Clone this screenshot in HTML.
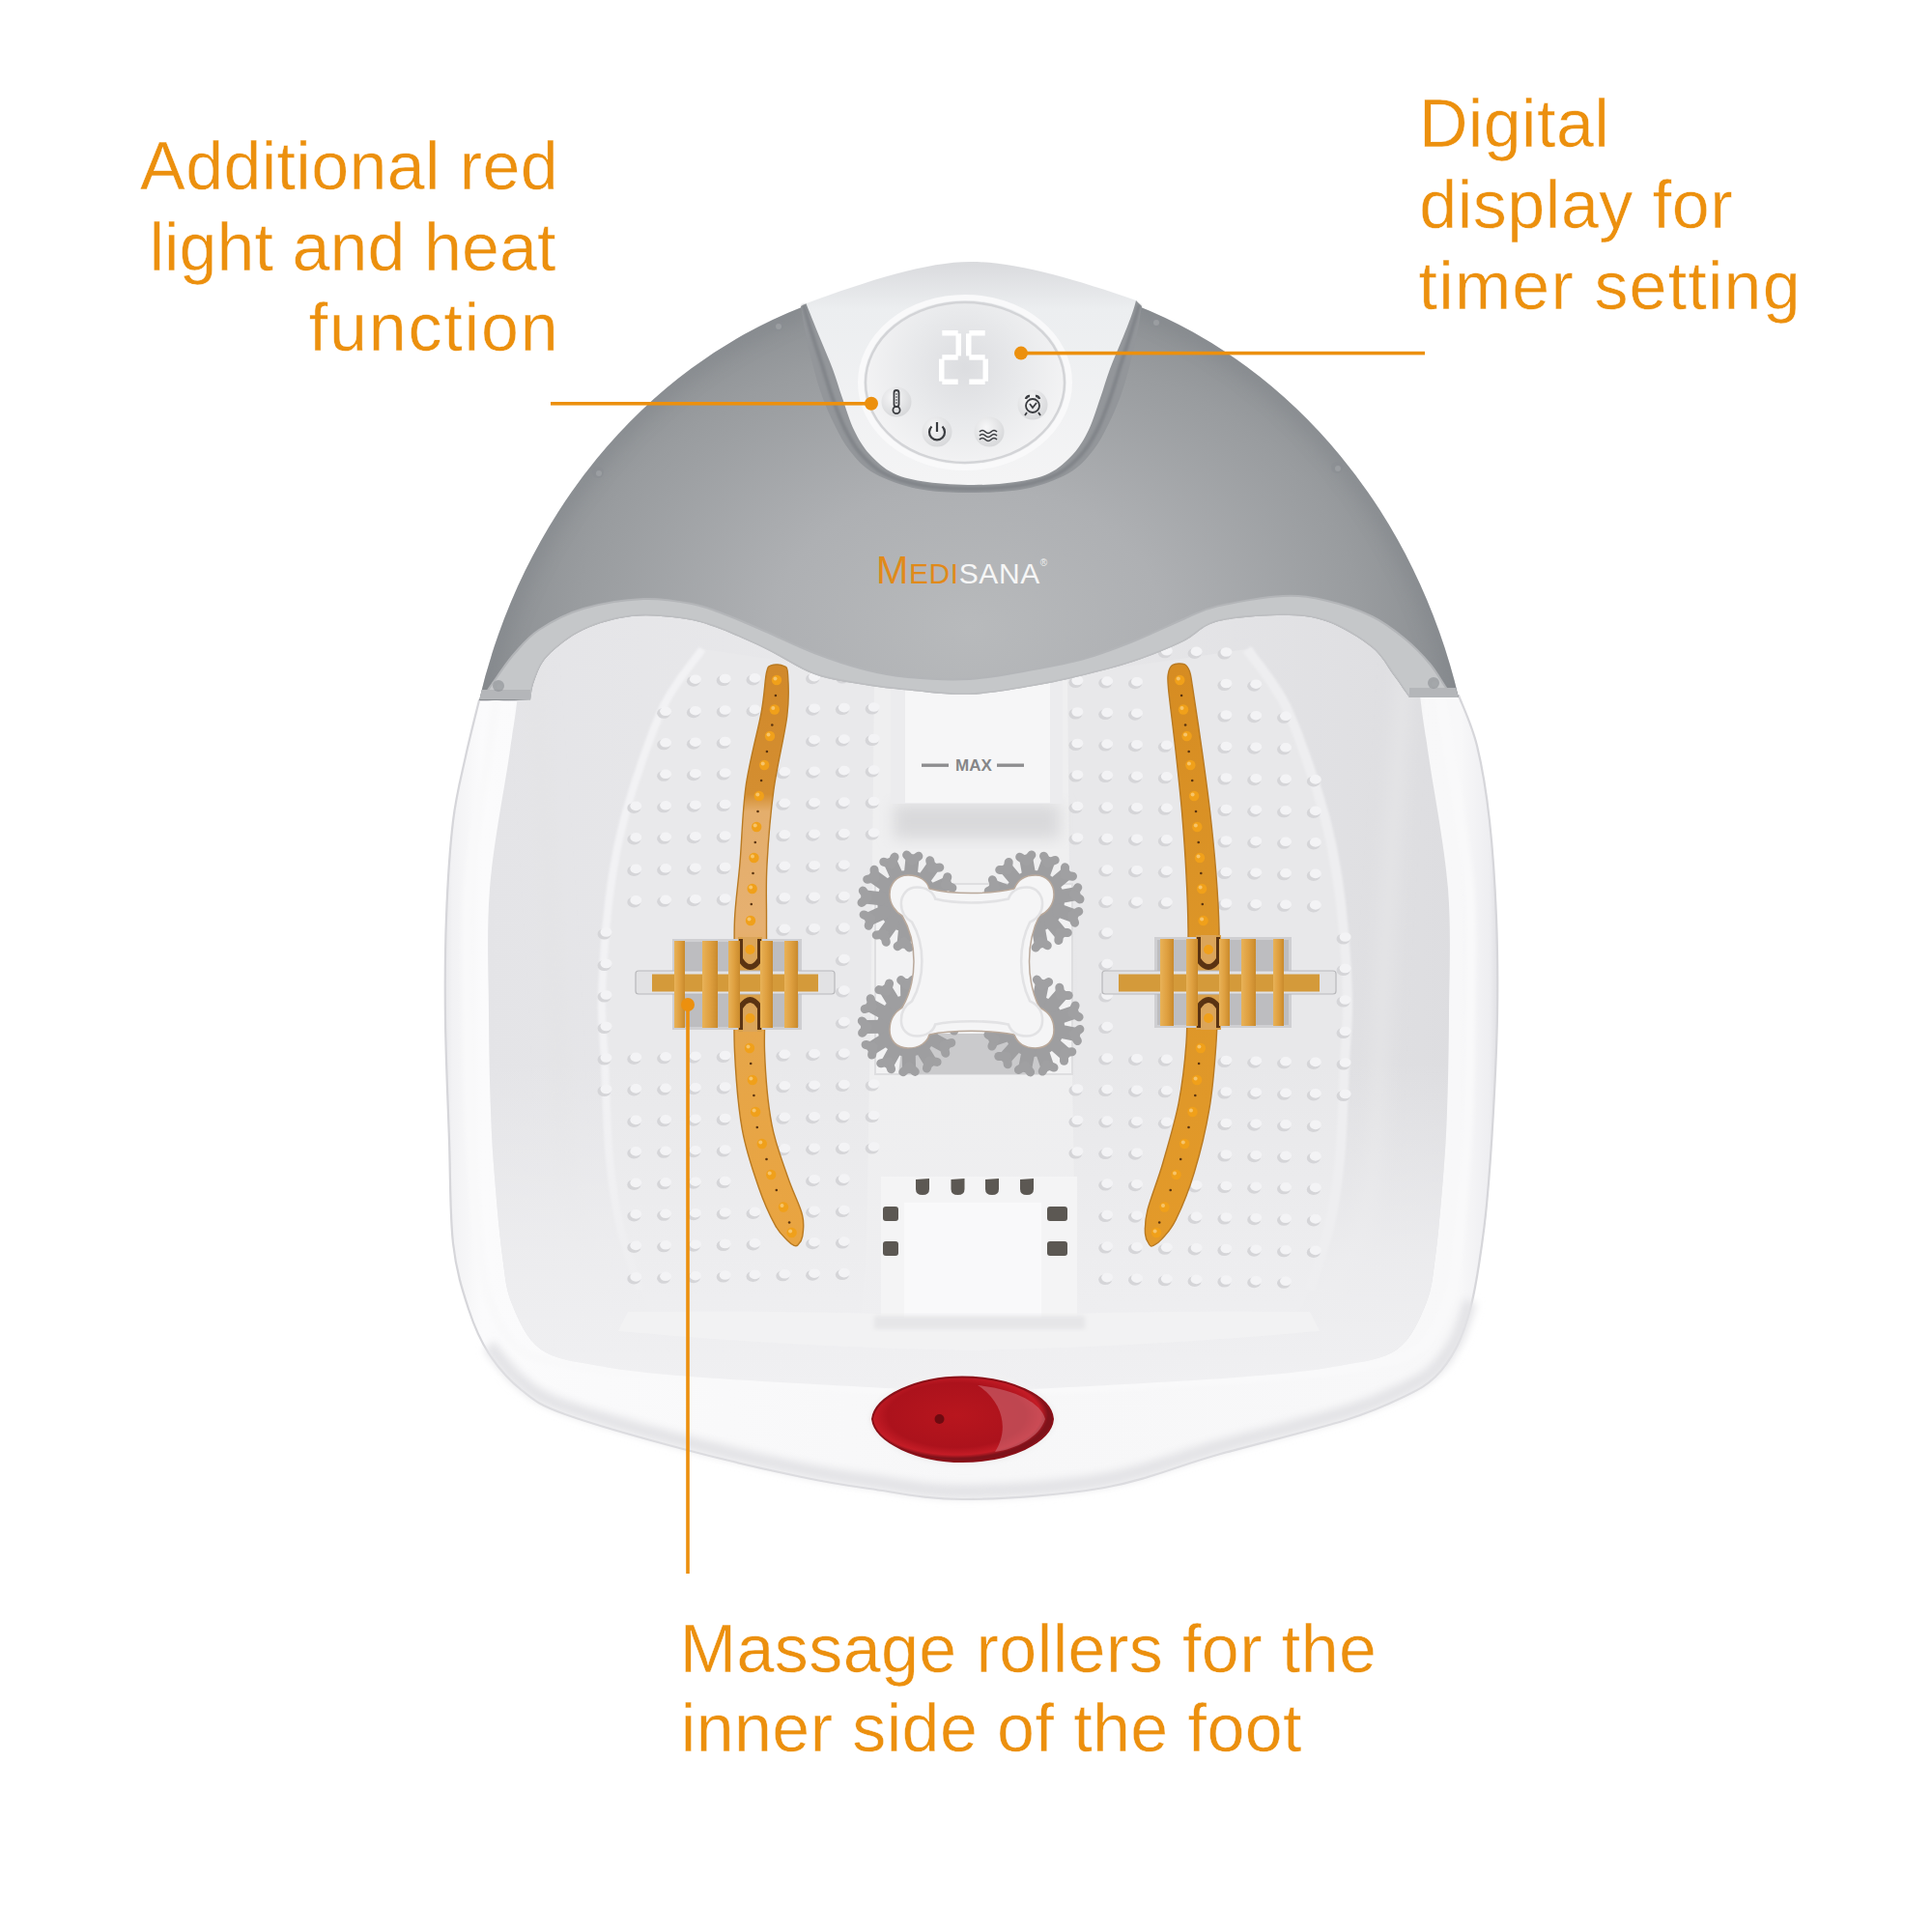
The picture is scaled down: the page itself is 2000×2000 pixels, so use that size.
<!DOCTYPE html>
<html><head><meta charset="utf-8">
<style>
html,body{margin:0;padding:0;background:#fff;width:2000px;height:2000px;overflow:hidden}
svg{display:block}
</style></head>
<body>
<svg width="2000" height="2000" viewBox="0 0 2000 2000" xmlns="http://www.w3.org/2000/svg">
<defs>
  <radialGradient id="domeG" cx="1003" cy="650" r="580" gradientUnits="userSpaceOnUse" gradientTransform="translate(1003 650) scale(1 0.72) translate(-1003 -650)">
    <stop offset="0" stop-color="#b8babc"/>
    <stop offset="0.35" stop-color="#aeb0b3"/>
    <stop offset="0.7" stop-color="#999c9f"/>
    <stop offset="1" stop-color="#7f8387"/>
  </radialGradient>
  <linearGradient id="bodyG" x1="455" y1="0" x2="1555" y2="0" gradientUnits="userSpaceOnUse">
    <stop offset="0" stop-color="#e2e2e5"/>
    <stop offset="0.012" stop-color="#f2f2f4"/>
    <stop offset="0.04" stop-color="#fbfbfc"/>
    <stop offset="0.5" stop-color="#f7f7f8"/>
    <stop offset="0.96" stop-color="#f8f8f9"/>
    <stop offset="0.988" stop-color="#eeeef1"/>
    <stop offset="1" stop-color="#d9d9de"/>
  </linearGradient>
  <linearGradient id="basinG" x1="0" y1="620" x2="0" y2="1440" gradientUnits="userSpaceOnUse">
    <stop offset="0" stop-color="#e0e0e2"/>
    <stop offset="0.5" stop-color="#e4e4e6"/>
    <stop offset="1" stop-color="#e8e8ea"/>
  </linearGradient>
  <linearGradient id="wallL" x1="530" y1="0" x2="640" y2="0" gradientUnits="userSpaceOnUse">
    <stop offset="0" stop-color="#e8e8ea"/>
    <stop offset="0.5" stop-color="#eeeeef"/>
    <stop offset="1" stop-color="#e9e9eb"/>
  </linearGradient>
  <linearGradient id="wallG" x1="500" y1="0" x2="1510" y2="0" gradientUnits="userSpaceOnUse">
    <stop offset="0" stop-color="#e4e4e7"/>
    <stop offset="0.5" stop-color="#eaeaec"/>
    <stop offset="1" stop-color="#dddde0"/>
  </linearGradient>
  <linearGradient id="frontG" x1="0" y1="1100" x2="0" y2="1440" gradientUnits="userSpaceOnUse">
    <stop offset="0" stop-color="#eeeef0" stop-opacity="0"/>
    <stop offset="0.6" stop-color="#eeeef0" stop-opacity="0.85"/>
    <stop offset="1" stop-color="#f0f0f2" stop-opacity="1"/>
  </linearGradient>
  <linearGradient id="modG" x1="0" y1="270" x2="0" y2="500" gradientUnits="userSpaceOnUse">
    <stop offset="0" stop-color="#d9dadd"/>
    <stop offset="0.22" stop-color="#eceef0"/>
    <stop offset="1" stop-color="#f4f4f5"/>
  </linearGradient>
  <radialGradient id="dispG" cx="999" cy="380" r="110" gradientUnits="userSpaceOnUse">
    <stop offset="0" stop-color="#dcdde0"/>
    <stop offset="0.55" stop-color="#e9eaec"/>
    <stop offset="1" stop-color="#f4f4f5"/>
  </radialGradient>
  <linearGradient id="stripeL" x1="0" y1="690" x2="0" y2="1290" gradientUnits="userSpaceOnUse">
    <stop offset="0" stop-color="#d1892b"/>
    <stop offset="0.22" stop-color="#d48e30"/>
    <stop offset="0.25" stop-color="#e4ae6c"/>
    <stop offset="0.45" stop-color="#e6b070"/>
    <stop offset="0.62" stop-color="#e6a64a"/>
    <stop offset="1" stop-color="#e9a440"/>
  </linearGradient>
  <linearGradient id="stripeR" x1="0" y1="690" x2="0" y2="1290" gradientUnits="userSpaceOnUse">
    <stop offset="0" stop-color="#d68c22"/>
    <stop offset="0.5" stop-color="#dd9628"/>
    <stop offset="1" stop-color="#e39a2a"/>
  </linearGradient>
  <radialGradient id="btnG" cx="0.4" cy="0.35" r="0.65">
    <stop offset="0" stop-color="#f7f7f8"/>
    <stop offset="1" stop-color="#d8d9db"/>
  </radialGradient>
  <radialGradient id="redG" cx="990" cy="1465" r="95" gradientUnits="userSpaceOnUse" gradientTransform="translate(990 1465) scale(1 0.47) translate(-990 -1465)">
    <stop offset="0" stop-color="#b8161e"/>
    <stop offset="0.75" stop-color="#ac121c"/>
    <stop offset="0.92" stop-color="#c41c26"/>
    <stop offset="1" stop-color="#7e121a"/>
  </radialGradient>
  <linearGradient id="finG" x1="0" y1="0" x2="1" y2="0">
    <stop offset="0" stop-color="#e8b258"/>
    <stop offset="0.5" stop-color="#dfa040"/>
    <stop offset="1" stop-color="#c98a2c"/>
  </linearGradient>
  <filter id="blur1" x="-20%" y="-20%" width="140%" height="140%"><feGaussianBlur stdDeviation="1"/></filter>
  <filter id="blur2" x="-20%" y="-20%" width="140%" height="140%"><feGaussianBlur stdDeviation="2"/></filter>
  <filter id="blur4" x="-20%" y="-20%" width="140%" height="140%"><feGaussianBlur stdDeviation="4"/></filter>
  <filter id="blur8" x="-30%" y="-30%" width="160%" height="160%"><feGaussianBlur stdDeviation="8"/></filter>
</defs>
<rect width="2000" height="2000" fill="#fff"/>
<path d="M496.0 725.0 C493.7 734.7 486.5 762.2 482.0 783.0 C477.5 803.8 472.3 822.2 469.0 850.0 C465.7 877.8 463.3 915.5 462.0 950.0 C460.7 984.5 460.5 1018.7 461.0 1057.0 C461.5 1095.3 463.7 1141.7 465.0 1180.0 C466.3 1218.3 465.7 1257.8 469.0 1287.0 C472.3 1316.2 478.8 1336.0 485.0 1355.0 C491.2 1374.0 496.8 1387.0 506.0 1401.0 C515.2 1415.0 526.8 1428.5 540.0 1439.0 C553.2 1449.5 556.5 1453.7 585.0 1464.0 C613.5 1474.3 670.2 1490.2 711.0 1501.0 C751.8 1511.8 798.5 1522.3 830.0 1529.0 C861.5 1535.7 872.0 1537.2 900.0 1541.0 C928.0 1544.8 957.5 1552.2 998.0 1552.0 C1038.5 1551.8 1099.3 1547.7 1143.0 1540.0 C1186.7 1532.3 1218.3 1517.7 1260.0 1506.0 C1301.7 1494.3 1360.5 1480.2 1393.0 1470.0 C1425.5 1459.8 1439.5 1452.5 1455.0 1445.0 C1470.5 1437.5 1477.2 1433.5 1486.0 1425.0 C1494.8 1416.5 1502.0 1405.7 1508.0 1394.0 C1514.0 1382.3 1518.2 1369.2 1522.0 1355.0 C1525.8 1340.8 1528.2 1327.0 1531.0 1309.0 C1533.8 1291.0 1536.5 1273.5 1539.0 1247.0 C1541.5 1220.5 1544.2 1182.8 1546.0 1150.0 C1547.8 1117.2 1549.5 1083.3 1550.0 1050.0 C1550.5 1016.7 1550.3 983.3 1549.0 950.0 C1547.7 916.7 1545.3 879.7 1542.0 850.0 C1538.7 820.3 1534.3 793.7 1529.0 772.0 C1523.7 750.3 1513.2 728.7 1510.0 720.0  Z" fill="url(#bodyG)"/>
<path d="M496.0 725.0 C493.7 734.7 486.5 762.2 482.0 783.0 C477.5 803.8 472.3 822.2 469.0 850.0 C465.7 877.8 463.3 915.5 462.0 950.0 C460.7 984.5 460.5 1018.7 461.0 1057.0 C461.5 1095.3 463.7 1141.7 465.0 1180.0 C466.3 1218.3 465.7 1257.8 469.0 1287.0 C472.3 1316.2 478.8 1336.0 485.0 1355.0 C491.2 1374.0 496.8 1387.0 506.0 1401.0 C515.2 1415.0 526.8 1428.5 540.0 1439.0 C553.2 1449.5 556.5 1453.7 585.0 1464.0 C613.5 1474.3 670.2 1490.2 711.0 1501.0 C751.8 1511.8 798.5 1522.3 830.0 1529.0 C861.5 1535.7 872.0 1537.2 900.0 1541.0 C928.0 1544.8 957.5 1552.2 998.0 1552.0 C1038.5 1551.8 1099.3 1547.7 1143.0 1540.0 C1186.7 1532.3 1218.3 1517.7 1260.0 1506.0 C1301.7 1494.3 1360.5 1480.2 1393.0 1470.0 C1425.5 1459.8 1439.5 1452.5 1455.0 1445.0 C1470.5 1437.5 1477.2 1433.5 1486.0 1425.0 C1494.8 1416.5 1502.0 1405.7 1508.0 1394.0 C1514.0 1382.3 1518.2 1369.2 1522.0 1355.0 C1525.8 1340.8 1528.2 1327.0 1531.0 1309.0 C1533.8 1291.0 1536.5 1273.5 1539.0 1247.0 C1541.5 1220.5 1544.2 1182.8 1546.0 1150.0 C1547.8 1117.2 1549.5 1083.3 1550.0 1050.0 C1550.5 1016.7 1550.3 983.3 1549.0 950.0 C1547.7 916.7 1545.3 879.7 1542.0 850.0 C1538.7 820.3 1534.3 793.7 1529.0 772.0 C1523.7 750.3 1513.2 728.7 1510.0 720.0  Z" fill="none" stroke="#d6d6da" stroke-width="2.2"/>
<path d="M506.0 1401.0 C511.7 1407.3 526.8 1428.5 540.0 1439.0 C553.2 1449.5 556.5 1453.7 585.0 1464.0 C613.5 1474.3 670.2 1490.2 711.0 1501.0 C751.8 1511.8 798.5 1522.3 830.0 1529.0 C861.5 1535.7 872.0 1537.2 900.0 1541.0 C928.0 1544.8 957.5 1552.2 998.0 1552.0 C1038.5 1551.8 1099.3 1547.7 1143.0 1540.0 C1186.7 1532.3 1218.3 1517.7 1260.0 1506.0 C1301.7 1494.3 1360.5 1480.2 1393.0 1470.0 C1425.5 1459.8 1439.5 1452.5 1455.0 1445.0 C1470.5 1437.5 1477.2 1433.5 1486.0 1425.0 C1494.8 1416.5 1502.0 1405.7 1508.0 1394.0 C1514.0 1382.3 1519.7 1361.5 1522.0 1355.0 " fill="none" stroke="#e3e3e6" stroke-width="14" filter="url(#blur4)" transform="translate(0 -8)"/>
<path d="M549.0 600.0 C546.8 620.0 539.7 689.5 536.0 720.0 C532.3 750.5 531.8 749.7 527.0 783.0 C522.2 816.3 510.5 875.5 507.0 920.0 C503.5 964.5 505.8 1011.7 506.0 1050.0 C506.2 1088.3 507.0 1122.0 508.0 1150.0 C509.0 1178.0 510.0 1193.0 512.0 1218.0 C514.0 1243.0 517.0 1278.0 520.0 1300.0 C523.0 1322.0 523.3 1333.8 530.0 1350.0 C536.7 1366.2 545.0 1386.3 560.0 1397.0 C575.0 1407.7 594.2 1409.3 620.0 1414.0 C645.8 1418.7 668.3 1421.3 715.0 1425.0 C761.7 1428.7 852.0 1433.5 900.0 1436.0 C948.0 1438.5 968.7 1440.0 1003.0 1440.0 C1037.3 1440.0 1058.0 1438.5 1106.0 1436.0 C1154.0 1433.5 1244.3 1428.7 1291.0 1425.0 C1337.7 1421.3 1360.2 1418.7 1386.0 1414.0 C1411.8 1409.3 1431.0 1407.7 1446.0 1397.0 C1461.0 1386.3 1469.3 1366.2 1476.0 1350.0 C1482.7 1333.8 1483.0 1322.0 1486.0 1300.0 C1489.0 1278.0 1492.0 1243.0 1494.0 1218.0 C1496.0 1193.0 1497.0 1178.0 1498.0 1150.0 C1499.0 1122.0 1499.8 1088.3 1500.0 1050.0 C1500.2 1011.7 1502.5 964.5 1499.0 920.0 C1495.5 875.5 1483.8 816.3 1479.0 783.0 C1474.2 749.7 1473.7 750.5 1470.0 720.0 C1466.3 689.5 1459.2 620.0 1457.0 600.0  Z" fill="url(#wallG)"/>
<path d="M536.0 720.0 C534.5 730.5 531.8 749.7 527.0 783.0 C522.2 816.3 510.5 875.5 507.0 920.0 C503.5 964.5 505.8 1011.7 506.0 1050.0 C506.2 1088.3 507.0 1122.0 508.0 1150.0 C509.0 1178.0 510.0 1193.0 512.0 1218.0 C514.0 1243.0 517.0 1278.0 520.0 1300.0 C523.0 1322.0 523.3 1333.8 530.0 1350.0 C536.7 1366.2 545.0 1386.3 560.0 1397.0 C575.0 1407.7 594.2 1409.3 620.0 1414.0 C645.8 1418.7 668.3 1421.3 715.0 1425.0 C761.7 1428.7 852.0 1433.5 900.0 1436.0 C948.0 1438.5 985.8 1439.3 1003.0 1440.0 " fill="none" stroke="#f9f9fa" stroke-width="10" filter="url(#blur2)" transform="translate(-22 0)"/>
<path d="M1003.0 1440.0 C1020.2 1439.3 1058.0 1438.5 1106.0 1436.0 C1154.0 1433.5 1244.3 1428.7 1291.0 1425.0 C1337.7 1421.3 1360.2 1418.7 1386.0 1414.0 C1411.8 1409.3 1431.0 1407.7 1446.0 1397.0 C1461.0 1386.3 1469.3 1366.2 1476.0 1350.0 C1482.7 1333.8 1483.0 1322.0 1486.0 1300.0 C1489.0 1278.0 1492.0 1243.0 1494.0 1218.0 C1496.0 1193.0 1497.0 1178.0 1498.0 1150.0 C1499.0 1122.0 1499.8 1088.3 1500.0 1050.0 C1500.2 1011.7 1502.5 964.5 1499.0 920.0 C1495.5 875.5 1483.8 816.3 1479.0 783.0 C1474.2 749.7 1471.5 730.5 1470.0 720.0 " fill="none" stroke="#f9f9fa" stroke-width="10" filter="url(#blur2)" transform="translate(22 0)"/>
<path d="M548 640 C560 800 575 1000 580 1150 C585 1250 600 1320 650 1345" fill="none" stroke="#e4e4e6" stroke-width="18" filter="url(#blur8)"/>
<path d="M1458 640 C1446 800 1431 1000 1426 1150 C1421 1250 1406 1320 1356 1345" fill="none" stroke="#e4e4e6" stroke-width="18" filter="url(#blur8)"/>
<path d="M727.0 672.0 C720.8 680.8 700.5 705.3 690.0 725.0 C679.5 744.7 671.8 767.5 664.0 790.0 C656.2 812.5 648.7 835.8 643.0 860.0 C637.3 884.2 633.3 906.2 630.0 935.0 C626.7 963.8 623.7 1005.5 623.0 1033.0 C622.3 1060.5 624.7 1072.2 626.0 1100.0 C627.3 1127.8 628.3 1171.7 631.0 1200.0 C633.7 1228.3 636.8 1247.5 642.0 1270.0 C647.2 1292.5 652.3 1319.7 662.0 1335.0 C671.7 1350.3 663.7 1359.5 700.0 1362.0 C736.3 1364.5 845.8 1370.3 880.0 1350.0 C914.2 1329.7 901.2 1298.3 905.0 1240.0 C908.8 1181.7 902.2 1060.0 903.0 1000.0 C903.8 940.0 907.2 930.0 910.0 880.0 C912.8 830.0 918.3 730.0 920.0 700.0  Z" fill="#e9e9eb"/>
<path d="M1291.0 672.0 C1297.2 680.8 1317.5 705.3 1328.0 725.0 C1338.5 744.7 1346.2 767.5 1354.0 790.0 C1361.8 812.5 1369.3 835.8 1375.0 860.0 C1380.7 884.2 1384.7 906.2 1388.0 935.0 C1391.3 963.8 1394.3 1005.5 1395.0 1033.0 C1395.7 1060.5 1393.3 1072.2 1392.0 1100.0 C1390.7 1127.8 1389.7 1171.7 1387.0 1200.0 C1384.3 1228.3 1381.2 1247.5 1376.0 1270.0 C1370.8 1292.5 1365.7 1319.7 1356.0 1335.0 C1346.3 1350.3 1354.3 1359.5 1318.0 1362.0 C1281.7 1364.5 1172.2 1370.3 1138.0 1350.0 C1103.8 1329.7 1116.8 1298.3 1113.0 1240.0 C1109.2 1181.7 1115.8 1060.0 1115.0 1000.0 C1114.2 940.0 1110.8 930.0 1108.0 880.0 C1105.2 830.0 1099.7 730.0 1098.0 700.0  Z" fill="#e8e8ea"/>
<path d="M727.0 672.0 C720.8 680.8 700.5 705.3 690.0 725.0 C679.5 744.7 671.8 767.5 664.0 790.0 C656.2 812.5 648.7 835.8 643.0 860.0 C637.3 884.2 633.3 906.2 630.0 935.0 C626.7 963.8 623.7 1005.5 623.0 1033.0 C622.3 1060.5 624.7 1072.2 626.0 1100.0 C627.3 1127.8 628.3 1171.7 631.0 1200.0 C633.7 1228.3 636.8 1247.5 642.0 1270.0 C647.2 1292.5 658.7 1324.2 662.0 1335.0 " fill="none" stroke="#f2f2f4" stroke-width="8" filter="url(#blur1)"/>
<path d="M1291.0 672.0 C1297.2 680.8 1317.5 705.3 1328.0 725.0 C1338.5 744.7 1346.2 767.5 1354.0 790.0 C1361.8 812.5 1369.3 835.8 1375.0 860.0 C1380.7 884.2 1384.7 906.2 1388.0 935.0 C1391.3 963.8 1394.3 1005.5 1395.0 1033.0 C1395.7 1060.5 1393.3 1072.2 1392.0 1100.0 C1390.7 1127.8 1389.7 1171.7 1387.0 1200.0 C1384.3 1228.3 1381.2 1247.5 1376.0 1270.0 C1370.8 1292.5 1359.3 1324.2 1356.0 1335.0 " fill="none" stroke="#eeeef0" stroke-width="10" filter="url(#blur1)"/>
<path d="M905 700 L1105 700 L1108 1000 L1112 1230 C1113 1300 1115 1340 1120 1368 L890 1368 C895 1340 897 1300 898 1230 L902 1000 Z" fill="#efeff0"/>
<clipPath id="wallClip"><path d="M549.0 600.0 C546.8 620.0 539.7 689.5 536.0 720.0 C532.3 750.5 531.8 749.7 527.0 783.0 C522.2 816.3 510.5 875.5 507.0 920.0 C503.5 964.5 505.8 1011.7 506.0 1050.0 C506.2 1088.3 507.0 1122.0 508.0 1150.0 C509.0 1178.0 510.0 1193.0 512.0 1218.0 C514.0 1243.0 517.0 1278.0 520.0 1300.0 C523.0 1322.0 523.3 1333.8 530.0 1350.0 C536.7 1366.2 545.0 1386.3 560.0 1397.0 C575.0 1407.7 594.2 1409.3 620.0 1414.0 C645.8 1418.7 668.3 1421.3 715.0 1425.0 C761.7 1428.7 852.0 1433.5 900.0 1436.0 C948.0 1438.5 968.7 1440.0 1003.0 1440.0 C1037.3 1440.0 1058.0 1438.5 1106.0 1436.0 C1154.0 1433.5 1244.3 1428.7 1291.0 1425.0 C1337.7 1421.3 1360.2 1418.7 1386.0 1414.0 C1411.8 1409.3 1431.0 1407.7 1446.0 1397.0 C1461.0 1386.3 1469.3 1366.2 1476.0 1350.0 C1482.7 1333.8 1483.0 1322.0 1486.0 1300.0 C1489.0 1278.0 1492.0 1243.0 1494.0 1218.0 C1496.0 1193.0 1497.0 1178.0 1498.0 1150.0 C1499.0 1122.0 1499.8 1088.3 1500.0 1050.0 C1500.2 1011.7 1502.5 964.5 1499.0 920.0 C1495.5 875.5 1483.8 816.3 1479.0 783.0 C1474.2 749.7 1473.7 750.5 1470.0 720.0 C1466.3 689.5 1459.2 620.0 1457.0 600.0  Z"/></clipPath>
<rect x="480" y="1100" width="1060" height="360" fill="url(#frontG)" clip-path="url(#wallClip)"/>
<path d="M650 1358 C800 1356 900 1360 1003 1362 C1106 1360 1206 1356 1356 1358 L1366 1378 C1206 1392 1106 1396 1003 1398 C900 1396 800 1392 640 1378 Z" fill="#f2f2f4" opacity="0.8"/>
<g fill="#d5d5d8"><ellipse cx="1267.4" cy="677.0" rx="7" ry="5.5"/><ellipse cx="1236.6" cy="676.4" rx="7" ry="5.5"/><ellipse cx="1205.8" cy="675.8" rx="7" ry="5.5"/><ellipse cx="1175.0" cy="675.2" rx="7" ry="5.5"/><ellipse cx="1144.2" cy="674.6" rx="7" ry="5.5"/><ellipse cx="1113.4" cy="674.0" rx="7" ry="5.5"/><ellipse cx="717.9" cy="705.2" rx="7" ry="5.5"/><ellipse cx="1298.2" cy="710.2" rx="7" ry="5.5"/><ellipse cx="748.7" cy="704.5" rx="7" ry="5.5"/><ellipse cx="1267.4" cy="709.5" rx="7" ry="5.5"/><ellipse cx="779.5" cy="703.9" rx="7" ry="5.5"/><ellipse cx="841.1" cy="702.7" rx="7" ry="5.5"/><ellipse cx="1175.0" cy="707.7" rx="7" ry="5.5"/><ellipse cx="871.9" cy="702.1" rx="7" ry="5.5"/><ellipse cx="1144.2" cy="707.1" rx="7" ry="5.5"/><ellipse cx="902.7" cy="701.5" rx="7" ry="5.5"/><ellipse cx="1113.4" cy="706.5" rx="7" ry="5.5"/><ellipse cx="687.1" cy="738.3" rx="7" ry="5.5"/><ellipse cx="1329.0" cy="743.3" rx="7" ry="5.5"/><ellipse cx="717.9" cy="737.7" rx="7" ry="5.5"/><ellipse cx="1298.2" cy="742.7" rx="7" ry="5.5"/><ellipse cx="748.7" cy="737.0" rx="7" ry="5.5"/><ellipse cx="1267.4" cy="742.0" rx="7" ry="5.5"/><ellipse cx="779.5" cy="736.4" rx="7" ry="5.5"/><ellipse cx="841.1" cy="735.2" rx="7" ry="5.5"/><ellipse cx="1175.0" cy="740.2" rx="7" ry="5.5"/><ellipse cx="871.9" cy="734.6" rx="7" ry="5.5"/><ellipse cx="1144.2" cy="739.6" rx="7" ry="5.5"/><ellipse cx="902.7" cy="734.0" rx="7" ry="5.5"/><ellipse cx="1113.4" cy="739.0" rx="7" ry="5.5"/><ellipse cx="687.1" cy="770.8" rx="7" ry="5.5"/><ellipse cx="1329.0" cy="775.8" rx="7" ry="5.5"/><ellipse cx="717.9" cy="770.2" rx="7" ry="5.5"/><ellipse cx="1298.2" cy="775.2" rx="7" ry="5.5"/><ellipse cx="748.7" cy="769.5" rx="7" ry="5.5"/><ellipse cx="1267.4" cy="774.5" rx="7" ry="5.5"/><ellipse cx="1205.8" cy="773.3" rx="7" ry="5.5"/><ellipse cx="841.1" cy="767.7" rx="7" ry="5.5"/><ellipse cx="1175.0" cy="772.7" rx="7" ry="5.5"/><ellipse cx="871.9" cy="767.1" rx="7" ry="5.5"/><ellipse cx="1144.2" cy="772.1" rx="7" ry="5.5"/><ellipse cx="902.7" cy="766.5" rx="7" ry="5.5"/><ellipse cx="1113.4" cy="771.5" rx="7" ry="5.5"/><ellipse cx="1359.8" cy="808.9" rx="7" ry="5.5"/><ellipse cx="687.1" cy="803.3" rx="7" ry="5.5"/><ellipse cx="1329.0" cy="808.3" rx="7" ry="5.5"/><ellipse cx="717.9" cy="802.7" rx="7" ry="5.5"/><ellipse cx="1298.2" cy="807.7" rx="7" ry="5.5"/><ellipse cx="748.7" cy="802.0" rx="7" ry="5.5"/><ellipse cx="1267.4" cy="807.0" rx="7" ry="5.5"/><ellipse cx="810.3" cy="800.8" rx="7" ry="5.5"/><ellipse cx="1205.8" cy="805.8" rx="7" ry="5.5"/><ellipse cx="841.1" cy="800.2" rx="7" ry="5.5"/><ellipse cx="1175.0" cy="805.2" rx="7" ry="5.5"/><ellipse cx="871.9" cy="799.6" rx="7" ry="5.5"/><ellipse cx="1144.2" cy="804.6" rx="7" ry="5.5"/><ellipse cx="902.7" cy="799.0" rx="7" ry="5.5"/><ellipse cx="1113.4" cy="804.0" rx="7" ry="5.5"/><ellipse cx="656.3" cy="836.4" rx="7" ry="5.5"/><ellipse cx="1359.8" cy="841.4" rx="7" ry="5.5"/><ellipse cx="687.1" cy="835.8" rx="7" ry="5.5"/><ellipse cx="1329.0" cy="840.8" rx="7" ry="5.5"/><ellipse cx="717.9" cy="835.2" rx="7" ry="5.5"/><ellipse cx="1298.2" cy="840.2" rx="7" ry="5.5"/><ellipse cx="748.7" cy="834.5" rx="7" ry="5.5"/><ellipse cx="1267.4" cy="839.5" rx="7" ry="5.5"/><ellipse cx="810.3" cy="833.3" rx="7" ry="5.5"/><ellipse cx="1205.8" cy="838.3" rx="7" ry="5.5"/><ellipse cx="841.1" cy="832.7" rx="7" ry="5.5"/><ellipse cx="1175.0" cy="837.7" rx="7" ry="5.5"/><ellipse cx="871.9" cy="832.1" rx="7" ry="5.5"/><ellipse cx="1144.2" cy="837.1" rx="7" ry="5.5"/><ellipse cx="902.7" cy="831.5" rx="7" ry="5.5"/><ellipse cx="1113.4" cy="836.5" rx="7" ry="5.5"/><ellipse cx="656.3" cy="868.9" rx="7" ry="5.5"/><ellipse cx="1359.8" cy="873.9" rx="7" ry="5.5"/><ellipse cx="687.1" cy="868.3" rx="7" ry="5.5"/><ellipse cx="1329.0" cy="873.3" rx="7" ry="5.5"/><ellipse cx="717.9" cy="867.7" rx="7" ry="5.5"/><ellipse cx="1298.2" cy="872.7" rx="7" ry="5.5"/><ellipse cx="748.7" cy="867.0" rx="7" ry="5.5"/><ellipse cx="1267.4" cy="872.0" rx="7" ry="5.5"/><ellipse cx="810.3" cy="865.8" rx="7" ry="5.5"/><ellipse cx="1205.8" cy="870.8" rx="7" ry="5.5"/><ellipse cx="841.1" cy="865.2" rx="7" ry="5.5"/><ellipse cx="1175.0" cy="870.2" rx="7" ry="5.5"/><ellipse cx="871.9" cy="864.6" rx="7" ry="5.5"/><ellipse cx="1144.2" cy="869.6" rx="7" ry="5.5"/><ellipse cx="902.7" cy="864.0" rx="7" ry="5.5"/><ellipse cx="1113.4" cy="869.0" rx="7" ry="5.5"/><ellipse cx="656.3" cy="901.4" rx="7" ry="5.5"/><ellipse cx="1359.8" cy="906.4" rx="7" ry="5.5"/><ellipse cx="687.1" cy="900.8" rx="7" ry="5.5"/><ellipse cx="1329.0" cy="905.8" rx="7" ry="5.5"/><ellipse cx="717.9" cy="900.2" rx="7" ry="5.5"/><ellipse cx="1298.2" cy="905.2" rx="7" ry="5.5"/><ellipse cx="748.7" cy="899.5" rx="7" ry="5.5"/><ellipse cx="1267.4" cy="904.5" rx="7" ry="5.5"/><ellipse cx="810.3" cy="898.3" rx="7" ry="5.5"/><ellipse cx="1205.8" cy="903.3" rx="7" ry="5.5"/><ellipse cx="841.1" cy="897.7" rx="7" ry="5.5"/><ellipse cx="1175.0" cy="902.7" rx="7" ry="5.5"/><ellipse cx="871.9" cy="897.1" rx="7" ry="5.5"/><ellipse cx="1144.2" cy="902.1" rx="7" ry="5.5"/><ellipse cx="656.3" cy="933.9" rx="7" ry="5.5"/><ellipse cx="1359.8" cy="938.9" rx="7" ry="5.5"/><ellipse cx="687.1" cy="933.3" rx="7" ry="5.5"/><ellipse cx="1329.0" cy="938.3" rx="7" ry="5.5"/><ellipse cx="717.9" cy="932.7" rx="7" ry="5.5"/><ellipse cx="1298.2" cy="937.7" rx="7" ry="5.5"/><ellipse cx="748.7" cy="932.0" rx="7" ry="5.5"/><ellipse cx="1267.4" cy="937.0" rx="7" ry="5.5"/><ellipse cx="810.3" cy="930.8" rx="7" ry="5.5"/><ellipse cx="1205.8" cy="935.8" rx="7" ry="5.5"/><ellipse cx="841.1" cy="930.2" rx="7" ry="5.5"/><ellipse cx="1175.0" cy="935.2" rx="7" ry="5.5"/><ellipse cx="871.9" cy="929.6" rx="7" ry="5.5"/><ellipse cx="1144.2" cy="934.6" rx="7" ry="5.5"/><ellipse cx="625.5" cy="967.0" rx="7" ry="5.5"/><ellipse cx="1390.6" cy="972.0" rx="7" ry="5.5"/><ellipse cx="810.3" cy="963.3" rx="7" ry="5.5"/><ellipse cx="841.1" cy="962.7" rx="7" ry="5.5"/><ellipse cx="871.9" cy="962.1" rx="7" ry="5.5"/><ellipse cx="1144.2" cy="967.1" rx="7" ry="5.5"/><ellipse cx="625.5" cy="999.5" rx="7" ry="5.5"/><ellipse cx="1390.6" cy="1004.5" rx="7" ry="5.5"/><ellipse cx="871.9" cy="994.6" rx="7" ry="5.5"/><ellipse cx="1144.2" cy="999.6" rx="7" ry="5.5"/><ellipse cx="625.5" cy="1032.0" rx="7" ry="5.5"/><ellipse cx="1390.6" cy="1037.0" rx="7" ry="5.5"/><ellipse cx="871.9" cy="1027.1" rx="7" ry="5.5"/><ellipse cx="1144.2" cy="1032.1" rx="7" ry="5.5"/><ellipse cx="625.5" cy="1064.5" rx="7" ry="5.5"/><ellipse cx="1390.6" cy="1069.5" rx="7" ry="5.5"/><ellipse cx="871.9" cy="1059.6" rx="7" ry="5.5"/><ellipse cx="1144.2" cy="1064.6" rx="7" ry="5.5"/><ellipse cx="625.5" cy="1097.0" rx="7" ry="5.5"/><ellipse cx="1390.6" cy="1102.0" rx="7" ry="5.5"/><ellipse cx="656.3" cy="1096.4" rx="7" ry="5.5"/><ellipse cx="1359.8" cy="1101.4" rx="7" ry="5.5"/><ellipse cx="687.1" cy="1095.8" rx="7" ry="5.5"/><ellipse cx="1329.0" cy="1100.8" rx="7" ry="5.5"/><ellipse cx="717.9" cy="1095.2" rx="7" ry="5.5"/><ellipse cx="1298.2" cy="1100.2" rx="7" ry="5.5"/><ellipse cx="748.7" cy="1094.5" rx="7" ry="5.5"/><ellipse cx="1267.4" cy="1099.5" rx="7" ry="5.5"/><ellipse cx="810.3" cy="1093.3" rx="7" ry="5.5"/><ellipse cx="1205.8" cy="1098.3" rx="7" ry="5.5"/><ellipse cx="841.1" cy="1092.7" rx="7" ry="5.5"/><ellipse cx="1175.0" cy="1097.7" rx="7" ry="5.5"/><ellipse cx="871.9" cy="1092.1" rx="7" ry="5.5"/><ellipse cx="1144.2" cy="1097.1" rx="7" ry="5.5"/><ellipse cx="625.5" cy="1129.5" rx="7" ry="5.5"/><ellipse cx="1390.6" cy="1134.5" rx="7" ry="5.5"/><ellipse cx="656.3" cy="1128.9" rx="7" ry="5.5"/><ellipse cx="1359.8" cy="1133.9" rx="7" ry="5.5"/><ellipse cx="687.1" cy="1128.3" rx="7" ry="5.5"/><ellipse cx="1329.0" cy="1133.3" rx="7" ry="5.5"/><ellipse cx="717.9" cy="1127.7" rx="7" ry="5.5"/><ellipse cx="1298.2" cy="1132.7" rx="7" ry="5.5"/><ellipse cx="748.7" cy="1127.0" rx="7" ry="5.5"/><ellipse cx="1267.4" cy="1132.0" rx="7" ry="5.5"/><ellipse cx="810.3" cy="1125.8" rx="7" ry="5.5"/><ellipse cx="1205.8" cy="1130.8" rx="7" ry="5.5"/><ellipse cx="841.1" cy="1125.2" rx="7" ry="5.5"/><ellipse cx="1175.0" cy="1130.2" rx="7" ry="5.5"/><ellipse cx="871.9" cy="1124.6" rx="7" ry="5.5"/><ellipse cx="1144.2" cy="1129.6" rx="7" ry="5.5"/><ellipse cx="902.7" cy="1124.0" rx="7" ry="5.5"/><ellipse cx="1113.4" cy="1129.0" rx="7" ry="5.5"/><ellipse cx="656.3" cy="1161.4" rx="7" ry="5.5"/><ellipse cx="1359.8" cy="1166.4" rx="7" ry="5.5"/><ellipse cx="687.1" cy="1160.8" rx="7" ry="5.5"/><ellipse cx="1329.0" cy="1165.8" rx="7" ry="5.5"/><ellipse cx="717.9" cy="1160.2" rx="7" ry="5.5"/><ellipse cx="1298.2" cy="1165.2" rx="7" ry="5.5"/><ellipse cx="748.7" cy="1159.5" rx="7" ry="5.5"/><ellipse cx="1267.4" cy="1164.5" rx="7" ry="5.5"/><ellipse cx="810.3" cy="1158.3" rx="7" ry="5.5"/><ellipse cx="1205.8" cy="1163.3" rx="7" ry="5.5"/><ellipse cx="841.1" cy="1157.7" rx="7" ry="5.5"/><ellipse cx="1175.0" cy="1162.7" rx="7" ry="5.5"/><ellipse cx="871.9" cy="1157.1" rx="7" ry="5.5"/><ellipse cx="1144.2" cy="1162.1" rx="7" ry="5.5"/><ellipse cx="902.7" cy="1156.5" rx="7" ry="5.5"/><ellipse cx="1113.4" cy="1161.5" rx="7" ry="5.5"/><ellipse cx="656.3" cy="1193.9" rx="7" ry="5.5"/><ellipse cx="1359.8" cy="1198.9" rx="7" ry="5.5"/><ellipse cx="687.1" cy="1193.3" rx="7" ry="5.5"/><ellipse cx="1329.0" cy="1198.3" rx="7" ry="5.5"/><ellipse cx="717.9" cy="1192.7" rx="7" ry="5.5"/><ellipse cx="1298.2" cy="1197.7" rx="7" ry="5.5"/><ellipse cx="748.7" cy="1192.0" rx="7" ry="5.5"/><ellipse cx="1267.4" cy="1197.0" rx="7" ry="5.5"/><ellipse cx="810.3" cy="1190.8" rx="7" ry="5.5"/><ellipse cx="841.1" cy="1190.2" rx="7" ry="5.5"/><ellipse cx="1175.0" cy="1195.2" rx="7" ry="5.5"/><ellipse cx="871.9" cy="1189.6" rx="7" ry="5.5"/><ellipse cx="1144.2" cy="1194.6" rx="7" ry="5.5"/><ellipse cx="902.7" cy="1189.0" rx="7" ry="5.5"/><ellipse cx="1113.4" cy="1194.0" rx="7" ry="5.5"/><ellipse cx="656.3" cy="1226.4" rx="7" ry="5.5"/><ellipse cx="1359.8" cy="1231.4" rx="7" ry="5.5"/><ellipse cx="687.1" cy="1225.8" rx="7" ry="5.5"/><ellipse cx="1329.0" cy="1230.8" rx="7" ry="5.5"/><ellipse cx="717.9" cy="1225.2" rx="7" ry="5.5"/><ellipse cx="1298.2" cy="1230.2" rx="7" ry="5.5"/><ellipse cx="748.7" cy="1224.5" rx="7" ry="5.5"/><ellipse cx="1267.4" cy="1229.5" rx="7" ry="5.5"/><ellipse cx="1236.6" cy="1228.9" rx="7" ry="5.5"/><ellipse cx="841.1" cy="1222.7" rx="7" ry="5.5"/><ellipse cx="1175.0" cy="1227.7" rx="7" ry="5.5"/><ellipse cx="871.9" cy="1222.1" rx="7" ry="5.5"/><ellipse cx="1144.2" cy="1227.1" rx="7" ry="5.5"/><ellipse cx="656.3" cy="1258.9" rx="7" ry="5.5"/><ellipse cx="1359.8" cy="1263.9" rx="7" ry="5.5"/><ellipse cx="687.1" cy="1258.3" rx="7" ry="5.5"/><ellipse cx="1329.0" cy="1263.3" rx="7" ry="5.5"/><ellipse cx="717.9" cy="1257.7" rx="7" ry="5.5"/><ellipse cx="1298.2" cy="1262.7" rx="7" ry="5.5"/><ellipse cx="748.7" cy="1257.0" rx="7" ry="5.5"/><ellipse cx="1267.4" cy="1262.0" rx="7" ry="5.5"/><ellipse cx="779.5" cy="1256.4" rx="7" ry="5.5"/><ellipse cx="1236.6" cy="1261.4" rx="7" ry="5.5"/><ellipse cx="841.1" cy="1255.2" rx="7" ry="5.5"/><ellipse cx="1175.0" cy="1260.2" rx="7" ry="5.5"/><ellipse cx="871.9" cy="1254.6" rx="7" ry="5.5"/><ellipse cx="1144.2" cy="1259.6" rx="7" ry="5.5"/><ellipse cx="656.3" cy="1291.4" rx="7" ry="5.5"/><ellipse cx="1359.8" cy="1296.4" rx="7" ry="5.5"/><ellipse cx="687.1" cy="1290.8" rx="7" ry="5.5"/><ellipse cx="1329.0" cy="1295.8" rx="7" ry="5.5"/><ellipse cx="717.9" cy="1290.2" rx="7" ry="5.5"/><ellipse cx="1298.2" cy="1295.2" rx="7" ry="5.5"/><ellipse cx="748.7" cy="1289.5" rx="7" ry="5.5"/><ellipse cx="1267.4" cy="1294.5" rx="7" ry="5.5"/><ellipse cx="779.5" cy="1288.9" rx="7" ry="5.5"/><ellipse cx="1236.6" cy="1293.9" rx="7" ry="5.5"/><ellipse cx="1205.8" cy="1293.3" rx="7" ry="5.5"/><ellipse cx="841.1" cy="1287.7" rx="7" ry="5.5"/><ellipse cx="1175.0" cy="1292.7" rx="7" ry="5.5"/><ellipse cx="871.9" cy="1287.1" rx="7" ry="5.5"/><ellipse cx="1144.2" cy="1292.1" rx="7" ry="5.5"/><ellipse cx="656.3" cy="1323.9" rx="7" ry="5.5"/><ellipse cx="687.1" cy="1323.3" rx="7" ry="5.5"/><ellipse cx="1329.0" cy="1328.3" rx="7" ry="5.5"/><ellipse cx="717.9" cy="1322.7" rx="7" ry="5.5"/><ellipse cx="1298.2" cy="1327.7" rx="7" ry="5.5"/><ellipse cx="748.7" cy="1322.0" rx="7" ry="5.5"/><ellipse cx="1267.4" cy="1327.0" rx="7" ry="5.5"/><ellipse cx="779.5" cy="1321.4" rx="7" ry="5.5"/><ellipse cx="1236.6" cy="1326.4" rx="7" ry="5.5"/><ellipse cx="810.3" cy="1320.8" rx="7" ry="5.5"/><ellipse cx="1205.8" cy="1325.8" rx="7" ry="5.5"/><ellipse cx="841.1" cy="1320.2" rx="7" ry="5.5"/><ellipse cx="1175.0" cy="1325.2" rx="7" ry="5.5"/><ellipse cx="871.9" cy="1319.6" rx="7" ry="5.5"/><ellipse cx="1144.2" cy="1324.6" rx="7" ry="5.5"/></g><g fill="#f3f3f5"><ellipse cx="1269.4" cy="675.0" rx="6" ry="4.8"/><ellipse cx="1238.6" cy="674.4" rx="6" ry="4.8"/><ellipse cx="1207.8" cy="673.8" rx="6" ry="4.8"/><ellipse cx="1177.0" cy="673.2" rx="6" ry="4.8"/><ellipse cx="1146.2" cy="672.6" rx="6" ry="4.8"/><ellipse cx="1115.4" cy="672.0" rx="6" ry="4.8"/><ellipse cx="719.9" cy="703.2" rx="6" ry="4.8"/><ellipse cx="1300.2" cy="708.2" rx="6" ry="4.8"/><ellipse cx="750.7" cy="702.5" rx="6" ry="4.8"/><ellipse cx="1269.4" cy="707.5" rx="6" ry="4.8"/><ellipse cx="781.5" cy="701.9" rx="6" ry="4.8"/><ellipse cx="843.1" cy="700.7" rx="6" ry="4.8"/><ellipse cx="1177.0" cy="705.7" rx="6" ry="4.8"/><ellipse cx="873.9" cy="700.1" rx="6" ry="4.8"/><ellipse cx="1146.2" cy="705.1" rx="6" ry="4.8"/><ellipse cx="904.7" cy="699.5" rx="6" ry="4.8"/><ellipse cx="1115.4" cy="704.5" rx="6" ry="4.8"/><ellipse cx="689.1" cy="736.3" rx="6" ry="4.8"/><ellipse cx="1331.0" cy="741.3" rx="6" ry="4.8"/><ellipse cx="719.9" cy="735.7" rx="6" ry="4.8"/><ellipse cx="1300.2" cy="740.7" rx="6" ry="4.8"/><ellipse cx="750.7" cy="735.0" rx="6" ry="4.8"/><ellipse cx="1269.4" cy="740.0" rx="6" ry="4.8"/><ellipse cx="781.5" cy="734.4" rx="6" ry="4.8"/><ellipse cx="843.1" cy="733.2" rx="6" ry="4.8"/><ellipse cx="1177.0" cy="738.2" rx="6" ry="4.8"/><ellipse cx="873.9" cy="732.6" rx="6" ry="4.8"/><ellipse cx="1146.2" cy="737.6" rx="6" ry="4.8"/><ellipse cx="904.7" cy="732.0" rx="6" ry="4.8"/><ellipse cx="1115.4" cy="737.0" rx="6" ry="4.8"/><ellipse cx="689.1" cy="768.8" rx="6" ry="4.8"/><ellipse cx="1331.0" cy="773.8" rx="6" ry="4.8"/><ellipse cx="719.9" cy="768.2" rx="6" ry="4.8"/><ellipse cx="1300.2" cy="773.2" rx="6" ry="4.8"/><ellipse cx="750.7" cy="767.5" rx="6" ry="4.8"/><ellipse cx="1269.4" cy="772.5" rx="6" ry="4.8"/><ellipse cx="1207.8" cy="771.3" rx="6" ry="4.8"/><ellipse cx="843.1" cy="765.7" rx="6" ry="4.8"/><ellipse cx="1177.0" cy="770.7" rx="6" ry="4.8"/><ellipse cx="873.9" cy="765.1" rx="6" ry="4.8"/><ellipse cx="1146.2" cy="770.1" rx="6" ry="4.8"/><ellipse cx="904.7" cy="764.5" rx="6" ry="4.8"/><ellipse cx="1115.4" cy="769.5" rx="6" ry="4.8"/><ellipse cx="1361.8" cy="806.9" rx="6" ry="4.8"/><ellipse cx="689.1" cy="801.3" rx="6" ry="4.8"/><ellipse cx="1331.0" cy="806.3" rx="6" ry="4.8"/><ellipse cx="719.9" cy="800.7" rx="6" ry="4.8"/><ellipse cx="1300.2" cy="805.7" rx="6" ry="4.8"/><ellipse cx="750.7" cy="800.0" rx="6" ry="4.8"/><ellipse cx="1269.4" cy="805.0" rx="6" ry="4.8"/><ellipse cx="812.3" cy="798.8" rx="6" ry="4.8"/><ellipse cx="1207.8" cy="803.8" rx="6" ry="4.8"/><ellipse cx="843.1" cy="798.2" rx="6" ry="4.8"/><ellipse cx="1177.0" cy="803.2" rx="6" ry="4.8"/><ellipse cx="873.9" cy="797.6" rx="6" ry="4.8"/><ellipse cx="1146.2" cy="802.6" rx="6" ry="4.8"/><ellipse cx="904.7" cy="797.0" rx="6" ry="4.8"/><ellipse cx="1115.4" cy="802.0" rx="6" ry="4.8"/><ellipse cx="658.3" cy="834.4" rx="6" ry="4.8"/><ellipse cx="1361.8" cy="839.4" rx="6" ry="4.8"/><ellipse cx="689.1" cy="833.8" rx="6" ry="4.8"/><ellipse cx="1331.0" cy="838.8" rx="6" ry="4.8"/><ellipse cx="719.9" cy="833.2" rx="6" ry="4.8"/><ellipse cx="1300.2" cy="838.2" rx="6" ry="4.8"/><ellipse cx="750.7" cy="832.5" rx="6" ry="4.8"/><ellipse cx="1269.4" cy="837.5" rx="6" ry="4.8"/><ellipse cx="812.3" cy="831.3" rx="6" ry="4.8"/><ellipse cx="1207.8" cy="836.3" rx="6" ry="4.8"/><ellipse cx="843.1" cy="830.7" rx="6" ry="4.8"/><ellipse cx="1177.0" cy="835.7" rx="6" ry="4.8"/><ellipse cx="873.9" cy="830.1" rx="6" ry="4.8"/><ellipse cx="1146.2" cy="835.1" rx="6" ry="4.8"/><ellipse cx="904.7" cy="829.5" rx="6" ry="4.8"/><ellipse cx="1115.4" cy="834.5" rx="6" ry="4.8"/><ellipse cx="658.3" cy="866.9" rx="6" ry="4.8"/><ellipse cx="1361.8" cy="871.9" rx="6" ry="4.8"/><ellipse cx="689.1" cy="866.3" rx="6" ry="4.8"/><ellipse cx="1331.0" cy="871.3" rx="6" ry="4.8"/><ellipse cx="719.9" cy="865.7" rx="6" ry="4.8"/><ellipse cx="1300.2" cy="870.7" rx="6" ry="4.8"/><ellipse cx="750.7" cy="865.0" rx="6" ry="4.8"/><ellipse cx="1269.4" cy="870.0" rx="6" ry="4.8"/><ellipse cx="812.3" cy="863.8" rx="6" ry="4.8"/><ellipse cx="1207.8" cy="868.8" rx="6" ry="4.8"/><ellipse cx="843.1" cy="863.2" rx="6" ry="4.8"/><ellipse cx="1177.0" cy="868.2" rx="6" ry="4.8"/><ellipse cx="873.9" cy="862.6" rx="6" ry="4.8"/><ellipse cx="1146.2" cy="867.6" rx="6" ry="4.8"/><ellipse cx="904.7" cy="862.0" rx="6" ry="4.8"/><ellipse cx="1115.4" cy="867.0" rx="6" ry="4.8"/><ellipse cx="658.3" cy="899.4" rx="6" ry="4.8"/><ellipse cx="1361.8" cy="904.4" rx="6" ry="4.8"/><ellipse cx="689.1" cy="898.8" rx="6" ry="4.8"/><ellipse cx="1331.0" cy="903.8" rx="6" ry="4.8"/><ellipse cx="719.9" cy="898.2" rx="6" ry="4.8"/><ellipse cx="1300.2" cy="903.2" rx="6" ry="4.8"/><ellipse cx="750.7" cy="897.5" rx="6" ry="4.8"/><ellipse cx="1269.4" cy="902.5" rx="6" ry="4.8"/><ellipse cx="812.3" cy="896.3" rx="6" ry="4.8"/><ellipse cx="1207.8" cy="901.3" rx="6" ry="4.8"/><ellipse cx="843.1" cy="895.7" rx="6" ry="4.8"/><ellipse cx="1177.0" cy="900.7" rx="6" ry="4.8"/><ellipse cx="873.9" cy="895.1" rx="6" ry="4.8"/><ellipse cx="1146.2" cy="900.1" rx="6" ry="4.8"/><ellipse cx="658.3" cy="931.9" rx="6" ry="4.8"/><ellipse cx="1361.8" cy="936.9" rx="6" ry="4.8"/><ellipse cx="689.1" cy="931.3" rx="6" ry="4.8"/><ellipse cx="1331.0" cy="936.3" rx="6" ry="4.8"/><ellipse cx="719.9" cy="930.7" rx="6" ry="4.8"/><ellipse cx="1300.2" cy="935.7" rx="6" ry="4.8"/><ellipse cx="750.7" cy="930.0" rx="6" ry="4.8"/><ellipse cx="1269.4" cy="935.0" rx="6" ry="4.8"/><ellipse cx="812.3" cy="928.8" rx="6" ry="4.8"/><ellipse cx="1207.8" cy="933.8" rx="6" ry="4.8"/><ellipse cx="843.1" cy="928.2" rx="6" ry="4.8"/><ellipse cx="1177.0" cy="933.2" rx="6" ry="4.8"/><ellipse cx="873.9" cy="927.6" rx="6" ry="4.8"/><ellipse cx="1146.2" cy="932.6" rx="6" ry="4.8"/><ellipse cx="627.5" cy="965.0" rx="6" ry="4.8"/><ellipse cx="1392.6" cy="970.0" rx="6" ry="4.8"/><ellipse cx="812.3" cy="961.3" rx="6" ry="4.8"/><ellipse cx="843.1" cy="960.7" rx="6" ry="4.8"/><ellipse cx="873.9" cy="960.1" rx="6" ry="4.8"/><ellipse cx="1146.2" cy="965.1" rx="6" ry="4.8"/><ellipse cx="627.5" cy="997.5" rx="6" ry="4.8"/><ellipse cx="1392.6" cy="1002.5" rx="6" ry="4.8"/><ellipse cx="873.9" cy="992.6" rx="6" ry="4.8"/><ellipse cx="1146.2" cy="997.6" rx="6" ry="4.8"/><ellipse cx="627.5" cy="1030.0" rx="6" ry="4.8"/><ellipse cx="1392.6" cy="1035.0" rx="6" ry="4.8"/><ellipse cx="873.9" cy="1025.1" rx="6" ry="4.8"/><ellipse cx="1146.2" cy="1030.1" rx="6" ry="4.8"/><ellipse cx="627.5" cy="1062.5" rx="6" ry="4.8"/><ellipse cx="1392.6" cy="1067.5" rx="6" ry="4.8"/><ellipse cx="873.9" cy="1057.6" rx="6" ry="4.8"/><ellipse cx="1146.2" cy="1062.6" rx="6" ry="4.8"/><ellipse cx="627.5" cy="1095.0" rx="6" ry="4.8"/><ellipse cx="1392.6" cy="1100.0" rx="6" ry="4.8"/><ellipse cx="658.3" cy="1094.4" rx="6" ry="4.8"/><ellipse cx="1361.8" cy="1099.4" rx="6" ry="4.8"/><ellipse cx="689.1" cy="1093.8" rx="6" ry="4.8"/><ellipse cx="1331.0" cy="1098.8" rx="6" ry="4.8"/><ellipse cx="719.9" cy="1093.2" rx="6" ry="4.8"/><ellipse cx="1300.2" cy="1098.2" rx="6" ry="4.8"/><ellipse cx="750.7" cy="1092.5" rx="6" ry="4.8"/><ellipse cx="1269.4" cy="1097.5" rx="6" ry="4.8"/><ellipse cx="812.3" cy="1091.3" rx="6" ry="4.8"/><ellipse cx="1207.8" cy="1096.3" rx="6" ry="4.8"/><ellipse cx="843.1" cy="1090.7" rx="6" ry="4.8"/><ellipse cx="1177.0" cy="1095.7" rx="6" ry="4.8"/><ellipse cx="873.9" cy="1090.1" rx="6" ry="4.8"/><ellipse cx="1146.2" cy="1095.1" rx="6" ry="4.8"/><ellipse cx="627.5" cy="1127.5" rx="6" ry="4.8"/><ellipse cx="1392.6" cy="1132.5" rx="6" ry="4.8"/><ellipse cx="658.3" cy="1126.9" rx="6" ry="4.8"/><ellipse cx="1361.8" cy="1131.9" rx="6" ry="4.8"/><ellipse cx="689.1" cy="1126.3" rx="6" ry="4.8"/><ellipse cx="1331.0" cy="1131.3" rx="6" ry="4.8"/><ellipse cx="719.9" cy="1125.7" rx="6" ry="4.8"/><ellipse cx="1300.2" cy="1130.7" rx="6" ry="4.8"/><ellipse cx="750.7" cy="1125.0" rx="6" ry="4.8"/><ellipse cx="1269.4" cy="1130.0" rx="6" ry="4.8"/><ellipse cx="812.3" cy="1123.8" rx="6" ry="4.8"/><ellipse cx="1207.8" cy="1128.8" rx="6" ry="4.8"/><ellipse cx="843.1" cy="1123.2" rx="6" ry="4.8"/><ellipse cx="1177.0" cy="1128.2" rx="6" ry="4.8"/><ellipse cx="873.9" cy="1122.6" rx="6" ry="4.8"/><ellipse cx="1146.2" cy="1127.6" rx="6" ry="4.8"/><ellipse cx="904.7" cy="1122.0" rx="6" ry="4.8"/><ellipse cx="1115.4" cy="1127.0" rx="6" ry="4.8"/><ellipse cx="658.3" cy="1159.4" rx="6" ry="4.8"/><ellipse cx="1361.8" cy="1164.4" rx="6" ry="4.8"/><ellipse cx="689.1" cy="1158.8" rx="6" ry="4.8"/><ellipse cx="1331.0" cy="1163.8" rx="6" ry="4.8"/><ellipse cx="719.9" cy="1158.2" rx="6" ry="4.8"/><ellipse cx="1300.2" cy="1163.2" rx="6" ry="4.8"/><ellipse cx="750.7" cy="1157.5" rx="6" ry="4.8"/><ellipse cx="1269.4" cy="1162.5" rx="6" ry="4.8"/><ellipse cx="812.3" cy="1156.3" rx="6" ry="4.8"/><ellipse cx="1207.8" cy="1161.3" rx="6" ry="4.8"/><ellipse cx="843.1" cy="1155.7" rx="6" ry="4.8"/><ellipse cx="1177.0" cy="1160.7" rx="6" ry="4.8"/><ellipse cx="873.9" cy="1155.1" rx="6" ry="4.8"/><ellipse cx="1146.2" cy="1160.1" rx="6" ry="4.8"/><ellipse cx="904.7" cy="1154.5" rx="6" ry="4.8"/><ellipse cx="1115.4" cy="1159.5" rx="6" ry="4.8"/><ellipse cx="658.3" cy="1191.9" rx="6" ry="4.8"/><ellipse cx="1361.8" cy="1196.9" rx="6" ry="4.8"/><ellipse cx="689.1" cy="1191.3" rx="6" ry="4.8"/><ellipse cx="1331.0" cy="1196.3" rx="6" ry="4.8"/><ellipse cx="719.9" cy="1190.7" rx="6" ry="4.8"/><ellipse cx="1300.2" cy="1195.7" rx="6" ry="4.8"/><ellipse cx="750.7" cy="1190.0" rx="6" ry="4.8"/><ellipse cx="1269.4" cy="1195.0" rx="6" ry="4.8"/><ellipse cx="812.3" cy="1188.8" rx="6" ry="4.8"/><ellipse cx="843.1" cy="1188.2" rx="6" ry="4.8"/><ellipse cx="1177.0" cy="1193.2" rx="6" ry="4.8"/><ellipse cx="873.9" cy="1187.6" rx="6" ry="4.8"/><ellipse cx="1146.2" cy="1192.6" rx="6" ry="4.8"/><ellipse cx="904.7" cy="1187.0" rx="6" ry="4.8"/><ellipse cx="1115.4" cy="1192.0" rx="6" ry="4.8"/><ellipse cx="658.3" cy="1224.4" rx="6" ry="4.8"/><ellipse cx="1361.8" cy="1229.4" rx="6" ry="4.8"/><ellipse cx="689.1" cy="1223.8" rx="6" ry="4.8"/><ellipse cx="1331.0" cy="1228.8" rx="6" ry="4.8"/><ellipse cx="719.9" cy="1223.2" rx="6" ry="4.8"/><ellipse cx="1300.2" cy="1228.2" rx="6" ry="4.8"/><ellipse cx="750.7" cy="1222.5" rx="6" ry="4.8"/><ellipse cx="1269.4" cy="1227.5" rx="6" ry="4.8"/><ellipse cx="1238.6" cy="1226.9" rx="6" ry="4.8"/><ellipse cx="843.1" cy="1220.7" rx="6" ry="4.8"/><ellipse cx="1177.0" cy="1225.7" rx="6" ry="4.8"/><ellipse cx="873.9" cy="1220.1" rx="6" ry="4.8"/><ellipse cx="1146.2" cy="1225.1" rx="6" ry="4.8"/><ellipse cx="658.3" cy="1256.9" rx="6" ry="4.8"/><ellipse cx="1361.8" cy="1261.9" rx="6" ry="4.8"/><ellipse cx="689.1" cy="1256.3" rx="6" ry="4.8"/><ellipse cx="1331.0" cy="1261.3" rx="6" ry="4.8"/><ellipse cx="719.9" cy="1255.7" rx="6" ry="4.8"/><ellipse cx="1300.2" cy="1260.7" rx="6" ry="4.8"/><ellipse cx="750.7" cy="1255.0" rx="6" ry="4.8"/><ellipse cx="1269.4" cy="1260.0" rx="6" ry="4.8"/><ellipse cx="781.5" cy="1254.4" rx="6" ry="4.8"/><ellipse cx="1238.6" cy="1259.4" rx="6" ry="4.8"/><ellipse cx="843.1" cy="1253.2" rx="6" ry="4.8"/><ellipse cx="1177.0" cy="1258.2" rx="6" ry="4.8"/><ellipse cx="873.9" cy="1252.6" rx="6" ry="4.8"/><ellipse cx="1146.2" cy="1257.6" rx="6" ry="4.8"/><ellipse cx="658.3" cy="1289.4" rx="6" ry="4.8"/><ellipse cx="1361.8" cy="1294.4" rx="6" ry="4.8"/><ellipse cx="689.1" cy="1288.8" rx="6" ry="4.8"/><ellipse cx="1331.0" cy="1293.8" rx="6" ry="4.8"/><ellipse cx="719.9" cy="1288.2" rx="6" ry="4.8"/><ellipse cx="1300.2" cy="1293.2" rx="6" ry="4.8"/><ellipse cx="750.7" cy="1287.5" rx="6" ry="4.8"/><ellipse cx="1269.4" cy="1292.5" rx="6" ry="4.8"/><ellipse cx="781.5" cy="1286.9" rx="6" ry="4.8"/><ellipse cx="1238.6" cy="1291.9" rx="6" ry="4.8"/><ellipse cx="1207.8" cy="1291.3" rx="6" ry="4.8"/><ellipse cx="843.1" cy="1285.7" rx="6" ry="4.8"/><ellipse cx="1177.0" cy="1290.7" rx="6" ry="4.8"/><ellipse cx="873.9" cy="1285.1" rx="6" ry="4.8"/><ellipse cx="1146.2" cy="1290.1" rx="6" ry="4.8"/><ellipse cx="658.3" cy="1321.9" rx="6" ry="4.8"/><ellipse cx="689.1" cy="1321.3" rx="6" ry="4.8"/><ellipse cx="1331.0" cy="1326.3" rx="6" ry="4.8"/><ellipse cx="719.9" cy="1320.7" rx="6" ry="4.8"/><ellipse cx="1300.2" cy="1325.7" rx="6" ry="4.8"/><ellipse cx="750.7" cy="1320.0" rx="6" ry="4.8"/><ellipse cx="1269.4" cy="1325.0" rx="6" ry="4.8"/><ellipse cx="781.5" cy="1319.4" rx="6" ry="4.8"/><ellipse cx="1238.6" cy="1324.4" rx="6" ry="4.8"/><ellipse cx="812.3" cy="1318.8" rx="6" ry="4.8"/><ellipse cx="1207.8" cy="1323.8" rx="6" ry="4.8"/><ellipse cx="843.1" cy="1318.2" rx="6" ry="4.8"/><ellipse cx="1177.0" cy="1323.2" rx="6" ry="4.8"/><ellipse cx="873.9" cy="1317.6" rx="6" ry="4.8"/><ellipse cx="1146.2" cy="1322.6" rx="6" ry="4.8"/></g>
<rect x="925" y="832" width="172" height="36" fill="#d9d9db" filter="url(#blur8)"/>
<path d="M922 700 L1100 700 L1100 832 L922 832 Z" fill="#ececee"/>
<path d="M937 700 L1087 700 L1087 831 L937 831 Z" fill="#f6f6f7"/>
<rect x="954" y="790.5" width="28" height="3.4" fill="#8e8e90"/><rect x="1032" y="790.5" width="28" height="3.4" fill="#8e8e90"/>
<text x="1008" y="797.6" text-anchor="middle" font-family="Liberation Sans" font-weight="bold" font-size="17" fill="#858688">MAX</text>
<path d="M912 1218 L1115 1218 L1115 1368 L912 1368 Z" fill="#f4f4f5"/>
<path d="M936 1245 L1078 1245 L1078 1368 L936 1368 Z" fill="#f9f9fa"/>
<rect x="905" y="1362" width="218" height="14" fill="#e6e6e8" filter="url(#blur2)"/>
<path d="M948 1221 L962 1220 L962 1231 Q962 1237 955 1237 Q948 1237 948 1231 Z" fill="#5c5853"/>
<path d="M984.5 1221 L998.5 1220 L998.5 1231 Q998.5 1237 991.5 1237 Q984.5 1237 984.5 1231 Z" fill="#5c5853"/>
<path d="M1020 1221 L1034 1220 L1034 1231 Q1034 1237 1027 1237 Q1020 1237 1020 1231 Z" fill="#5c5853"/>
<path d="M1056 1221 L1070 1220 L1070 1231 Q1070 1237 1063 1237 Q1056 1237 1056 1231 Z" fill="#5c5853"/>
<rect x="914" y="1249" width="16" height="15" rx="3" fill="#5c5853"/>
<rect x="914" y="1285" width="16" height="15" rx="3" fill="#5c5853"/>
<rect x="1084" y="1249" width="21" height="15" rx="3" fill="#5c5853"/>
<rect x="1084" y="1285" width="21" height="15" rx="3" fill="#5c5853"/>
<path d="M799.0 688.6 C796.1 689.8 795.3 688.2 793.5 696.2 C791.7 704.3 791.7 717.4 788.2 737.0 C784.6 756.6 775.8 788.0 772.1 814.0 C768.5 840.0 768.0 870.1 766.0 893.0 C764.1 916.0 761.4 932.1 760.5 951.6 C759.6 971.0 760.5 987.0 760.5 1009.9 C760.5 1032.7 759.2 1062.2 760.5 1088.6 C761.8 1115.1 764.1 1145.3 768.2 1168.7 C772.4 1192.2 779.6 1212.5 785.4 1229.2 C791.1 1245.8 797.5 1259.2 802.5 1268.4 C807.5 1277.6 812.1 1280.7 815.3 1284.2 C818.6 1287.7 820.2 1288.5 822.0 1289.3 C823.8 1290.0 824.5 1290.3 826.0 1288.7 C827.4 1287.1 829.9 1285.0 830.7 1279.8 C831.4 1274.6 833.0 1267.7 830.5 1257.6 C828.0 1247.4 820.9 1234.6 815.6 1218.8 C810.4 1203.1 802.8 1185.2 798.8 1163.3 C794.7 1141.3 792.4 1112.9 791.5 1087.4 C790.6 1061.8 793.2 1032.6 793.5 1010.1 C793.8 987.6 793.4 971.6 793.5 952.4 C793.6 933.2 792.7 917.4 794.0 895.0 C795.2 872.6 797.4 843.7 800.9 818.0 C804.3 792.3 812.4 761.1 814.8 741.0 C817.3 721.0 816.1 706.4 815.5 697.8 C814.8 689.2 813.7 690.9 811.0 689.4 C808.2 687.9 801.9 687.5 799.0 688.6 Z" fill="url(#stripeL)" stroke="#b97a22" stroke-width="1.4"/>
<path d="M1214.0 688.4 C1211.3 689.9 1210.3 692.7 1209.5 696.9 C1208.8 701.1 1208.3 700.1 1209.6 713.6 C1210.9 727.0 1214.8 756.4 1217.1 777.7 C1219.4 799.0 1221.8 820.1 1223.6 841.4 C1225.4 862.8 1227.0 885.5 1228.0 905.6 C1229.1 925.7 1229.8 943.2 1230.0 962.2 C1230.2 981.2 1229.3 1000.0 1229.0 1019.7 C1228.7 1039.3 1229.5 1059.5 1228.0 1079.9 C1226.5 1100.3 1224.1 1121.4 1220.1 1142.1 C1216.0 1162.8 1209.0 1185.8 1203.7 1204.2 C1198.4 1222.5 1191.1 1240.0 1188.0 1252.2 C1185.0 1264.3 1185.1 1271.1 1185.5 1277.1 C1185.8 1283.2 1188.6 1286.5 1190.0 1288.6 C1191.5 1290.6 1191.9 1290.4 1194.0 1289.4 C1196.0 1288.5 1198.7 1287.3 1202.5 1282.9 C1206.4 1278.4 1211.5 1274.3 1217.2 1262.8 C1222.8 1251.3 1230.5 1233.0 1236.3 1213.8 C1242.1 1194.7 1248.2 1169.9 1251.9 1147.9 C1255.7 1126.0 1257.3 1103.4 1258.8 1082.1 C1260.3 1060.8 1260.5 1040.4 1261.0 1020.3 C1261.5 1000.3 1262.4 981.2 1262.0 961.8 C1261.6 942.3 1260.4 924.1 1258.8 903.6 C1257.2 883.1 1254.9 860.1 1252.4 838.6 C1249.9 817.0 1246.9 795.7 1243.9 774.3 C1240.9 753.0 1236.5 723.7 1234.4 710.4 C1232.3 697.2 1232.9 698.9 1231.5 695.1 C1230.1 691.3 1228.9 688.7 1226.0 687.6 C1223.1 686.5 1216.8 686.8 1214.0 688.4 Z" fill="url(#stripeR)" stroke="#b97a22" stroke-width="1.4"/>
<g><circle cx="804.0" cy="704.0" r="5.2" fill="#f0a01a"/><circle cx="802.5" cy="702.5" r="2" fill="#f7c46a"/><circle cx="1221.3" cy="704.0" r="5.2" fill="#f0a01a"/><circle cx="1219.8" cy="702.5" r="2" fill="#f7c46a"/><circle cx="802.9" cy="720.0" r="1.3" fill="#5a3410"/><circle cx="1223.1" cy="720.0" r="1.3" fill="#5a3410"/><circle cx="801.8" cy="734.5" r="5.2" fill="#f0a01a"/><circle cx="800.3" cy="733.0" r="2" fill="#f7c46a"/><circle cx="1225.0" cy="734.5" r="5.2" fill="#f0a01a"/><circle cx="1223.5" cy="733.0" r="2" fill="#f7c46a"/><circle cx="799.3" cy="750.5" r="1.3" fill="#5a3410"/><circle cx="1227.1" cy="750.5" r="1.3" fill="#5a3410"/><circle cx="797.0" cy="762.0" r="5.2" fill="#f0a01a"/><circle cx="795.5" cy="760.5" r="2" fill="#f7c46a"/><circle cx="1228.6" cy="762.0" r="5.2" fill="#f0a01a"/><circle cx="1227.1" cy="760.5" r="2" fill="#f7c46a"/><circle cx="793.9" cy="778.0" r="1.3" fill="#5a3410"/><circle cx="1230.7" cy="778.0" r="1.3" fill="#5a3410"/><circle cx="791.2" cy="792.0" r="5.2" fill="#f0a01a"/><circle cx="789.7" cy="790.5" r="2" fill="#f7c46a"/><circle cx="1232.4" cy="792.0" r="5.2" fill="#f0a01a"/><circle cx="1230.9" cy="790.5" r="2" fill="#f7c46a"/><circle cx="788.1" cy="808.0" r="1.3" fill="#5a3410"/><circle cx="1234.2" cy="808.0" r="1.3" fill="#5a3410"/><circle cx="785.8" cy="824.0" r="5.2" fill="#f0a01a"/><circle cx="784.3" cy="822.5" r="2" fill="#f7c46a"/><circle cx="1236.1" cy="824.0" r="5.2" fill="#f0a01a"/><circle cx="1234.6" cy="822.5" r="2" fill="#f7c46a"/><circle cx="784.5" cy="840.0" r="1.3" fill="#5a3410"/><circle cx="1238.0" cy="840.0" r="1.3" fill="#5a3410"/><circle cx="783.2" cy="856.0" r="5.2" fill="#f0a01a"/><circle cx="781.7" cy="854.5" r="2" fill="#f7c46a"/><circle cx="1239.3" cy="856.0" r="5.2" fill="#f0a01a"/><circle cx="1237.8" cy="854.5" r="2" fill="#f7c46a"/><circle cx="781.8" cy="872.0" r="1.3" fill="#5a3410"/><circle cx="1240.7" cy="872.0" r="1.3" fill="#5a3410"/><circle cx="780.5" cy="888.0" r="5.2" fill="#f0a01a"/><circle cx="779.0" cy="886.5" r="2" fill="#f7c46a"/><circle cx="1242.0" cy="888.0" r="5.2" fill="#f0a01a"/><circle cx="1240.5" cy="886.5" r="2" fill="#f7c46a"/><circle cx="779.5" cy="904.0" r="1.3" fill="#5a3410"/><circle cx="1243.3" cy="904.0" r="1.3" fill="#5a3410"/><circle cx="778.7" cy="920.0" r="5.2" fill="#f0a01a"/><circle cx="777.2" cy="918.5" r="2" fill="#f7c46a"/><circle cx="1244.1" cy="920.0" r="5.2" fill="#f0a01a"/><circle cx="1242.6" cy="918.5" r="2" fill="#f7c46a"/><circle cx="777.8" cy="936.0" r="1.3" fill="#5a3410"/><circle cx="1244.8" cy="936.0" r="1.3" fill="#5a3410"/><circle cx="777.0" cy="953.0" r="5.2" fill="#f0a01a"/><circle cx="775.5" cy="951.5" r="2" fill="#f7c46a"/><circle cx="1245.6" cy="953.0" r="5.2" fill="#f0a01a"/><circle cx="1244.1" cy="951.5" r="2" fill="#f7c46a"/><circle cx="776.4" cy="1052.0" r="5.2" fill="#f0a01a"/><circle cx="774.9" cy="1050.5" r="2" fill="#f7c46a"/><circle cx="1244.0" cy="1052.0" r="5.2" fill="#f0a01a"/><circle cx="1242.5" cy="1050.5" r="2" fill="#f7c46a"/><circle cx="776.0" cy="1085.0" r="5.2" fill="#f0a01a"/><circle cx="774.5" cy="1083.5" r="2" fill="#f7c46a"/><circle cx="1242.9" cy="1085.0" r="5.2" fill="#f0a01a"/><circle cx="1241.4" cy="1083.5" r="2" fill="#f7c46a"/><circle cx="777.2" cy="1101.0" r="1.3" fill="#5a3410"/><circle cx="1241.1" cy="1101.0" r="1.3" fill="#5a3410"/><circle cx="778.9" cy="1118.0" r="5.2" fill="#f0a01a"/><circle cx="777.4" cy="1116.5" r="2" fill="#f7c46a"/><circle cx="1239.1" cy="1118.0" r="5.2" fill="#f0a01a"/><circle cx="1237.6" cy="1116.5" r="2" fill="#f7c46a"/><circle cx="780.4" cy="1134.0" r="1.3" fill="#5a3410"/><circle cx="1237.3" cy="1134.0" r="1.3" fill="#5a3410"/><circle cx="782.1" cy="1151.0" r="5.2" fill="#f0a01a"/><circle cx="780.6" cy="1149.5" r="2" fill="#f7c46a"/><circle cx="1234.5" cy="1151.0" r="5.2" fill="#f0a01a"/><circle cx="1233.0" cy="1149.5" r="2" fill="#f7c46a"/><circle cx="783.8" cy="1167.0" r="1.3" fill="#5a3410"/><circle cx="1230.5" cy="1167.0" r="1.3" fill="#5a3410"/><circle cx="788.8" cy="1184.0" r="5.2" fill="#f0a01a"/><circle cx="787.3" cy="1182.5" r="2" fill="#f7c46a"/><circle cx="1226.2" cy="1184.0" r="5.2" fill="#f0a01a"/><circle cx="1224.8" cy="1182.5" r="2" fill="#f7c46a"/><circle cx="793.5" cy="1200.0" r="1.3" fill="#5a3410"/><circle cx="1222.2" cy="1200.0" r="1.3" fill="#5a3410"/><circle cx="798.2" cy="1216.0" r="5.2" fill="#f0a01a"/><circle cx="796.7" cy="1214.5" r="2" fill="#f7c46a"/><circle cx="1217.5" cy="1216.0" r="5.2" fill="#f0a01a"/><circle cx="1216.0" cy="1214.5" r="2" fill="#f7c46a"/><circle cx="803.8" cy="1232.0" r="1.3" fill="#5a3410"/><circle cx="1211.7" cy="1232.0" r="1.3" fill="#5a3410"/><circle cx="811.0" cy="1249.5" r="5.2" fill="#f0a01a"/><circle cx="809.5" cy="1248.0" r="2" fill="#f7c46a"/><circle cx="1205.5" cy="1249.5" r="5.2" fill="#f0a01a"/><circle cx="1204.0" cy="1248.0" r="2" fill="#f7c46a"/><circle cx="817.1" cy="1265.5" r="1.3" fill="#5a3410"/><circle cx="1200.2" cy="1265.5" r="1.3" fill="#5a3410"/><circle cx="819.6" cy="1276.0" r="5.2" fill="#f0a01a"/><circle cx="818.1" cy="1274.5" r="2" fill="#f7c46a"/><circle cx="1197.1" cy="1276.0" r="5.2" fill="#f0a01a"/><circle cx="1195.6" cy="1274.5" r="2" fill="#f7c46a"/></g>
<rect x="696" y="972" width="134" height="94" fill="#cfcfd2"/><rect x="699" y="975" width="128" height="88" fill="#bdbdc0"/><rect x="764" y="970" width="25" height="98" fill="#d9a04a"/><path d="M765 972 L765 996 Q776.5 1012 788 996 L788 972 Z" fill="#5a3312"/><path d="M769 970 L769 992 Q776.5 1004 784 992 L784 970 Z" fill="#dba55a"/><path d="M765 1066 L765 1040 Q776.5 1024 788 1040 L788 1066 Z" fill="#5a3312"/><path d="M769 1068 L769 1044 Q776.5 1032 784 1044 L784 1068 Z" fill="#dba55a"/><circle cx="776.5" cy="983" r="5" fill="#f0a01a"/><circle cx="776.5" cy="1054" r="5" fill="#f0a01a"/><rect x="658" y="1005" width="206" height="24" rx="3" fill="#e2e2e4" stroke="#b8b8bb" stroke-width="1.2"/><rect x="675" y="1008.5" width="172" height="18" fill="#d49a3a"/><rect x="698" y="974" width="11" height="90" fill="url(#finG)"/><rect x="727" y="974" width="16" height="90" fill="url(#finG)"/><rect x="754" y="974" width="12" height="90" fill="url(#finG)"/><rect x="787" y="974" width="13" height="90" fill="url(#finG)"/><rect x="812" y="974" width="14" height="90" fill="url(#finG)"/>
<rect x="1195" y="970" width="142" height="94" fill="#cfcfd2"/><rect x="1198" y="973" width="136" height="88" fill="#bdbdc0"/><rect x="1238" y="968" width="26" height="98" fill="#d9a04a"/><path d="M1239 970 L1239 996 Q1251.0 1012 1263 996 L1263 970 Z" fill="#5a3312"/><path d="M1243 968 L1243 992 Q1251.0 1004 1259 992 L1259 968 Z" fill="#dba55a"/><path d="M1239 1064 L1239 1040 Q1251.0 1024 1263 1040 L1263 1064 Z" fill="#5a3312"/><path d="M1243 1066 L1243 1044 Q1251.0 1032 1259 1044 L1259 1066 Z" fill="#dba55a"/><circle cx="1251.0" cy="983" r="5" fill="#f0a01a"/><circle cx="1251.0" cy="1054" r="5" fill="#f0a01a"/><rect x="1141" y="1005" width="242" height="24" rx="3" fill="#e2e2e4" stroke="#b8b8bb" stroke-width="1.2"/><rect x="1158" y="1008.5" width="208" height="18" fill="#d49a3a"/><rect x="1201" y="972" width="14" height="90" fill="url(#finG)"/><rect x="1228" y="972" width="12" height="90" fill="url(#finG)"/><rect x="1262" y="972" width="11" height="90" fill="url(#finG)"/><rect x="1285" y="972" width="15" height="90" fill="url(#finG)"/><rect x="1318" y="972" width="11" height="90" fill="url(#finG)"/>
<path d="M906 915 L1110 915 L1110 1112 L906 1112 Z" fill="#f2f2f3" stroke="#dedee0" stroke-width="2"/>
<path d="M935 1070 L1075 1070 L1080 1112 L930 1112 Z" fill="#cacacc"/>
<circle cx="940" cy="933" r="32" fill="#9e9ea0"/><line x1="967.9" y1="935.8" x2="981.8" y2="937.2" stroke="#9e9ea0" stroke-width="14" stroke-linecap="round"/><line x1="981.8" y1="937.2" x2="988.0" y2="931.6" stroke="#a0a0a2" stroke-width="9" stroke-linecap="round"/><line x1="981.8" y1="937.2" x2="986.7" y2="943.9" stroke="#a0a0a2" stroke-width="9" stroke-linecap="round"/><line x1="962.7" y1="949.4" x2="974.1" y2="957.5" stroke="#9e9ea0" stroke-width="14" stroke-linecap="round"/><line x1="974.1" y1="957.5" x2="982.3" y2="955.7" stroke="#a0a0a2" stroke-width="9" stroke-linecap="round"/><line x1="974.1" y1="957.5" x2="975.0" y2="965.8" stroke="#a0a0a2" stroke-width="9" stroke-linecap="round"/><line x1="951.5" y1="958.5" x2="957.3" y2="971.3" stroke="#9e9ea0" stroke-width="14" stroke-linecap="round"/><line x1="957.3" y1="971.3" x2="965.2" y2="973.8" stroke="#a0a0a2" stroke-width="9" stroke-linecap="round"/><line x1="957.3" y1="971.3" x2="953.9" y2="978.9" stroke="#a0a0a2" stroke-width="9" stroke-linecap="round"/><line x1="937.2" y1="960.9" x2="935.8" y2="974.8" stroke="#9e9ea0" stroke-width="14" stroke-linecap="round"/><line x1="935.8" y1="974.8" x2="941.4" y2="981.0" stroke="#a0a0a2" stroke-width="9" stroke-linecap="round"/><line x1="935.8" y1="974.8" x2="929.1" y2="979.7" stroke="#a0a0a2" stroke-width="9" stroke-linecap="round"/><line x1="923.6" y1="955.7" x2="915.5" y2="967.1" stroke="#9e9ea0" stroke-width="14" stroke-linecap="round"/><line x1="915.5" y1="967.1" x2="917.3" y2="975.3" stroke="#a0a0a2" stroke-width="9" stroke-linecap="round"/><line x1="915.5" y1="967.1" x2="907.2" y2="968.0" stroke="#a0a0a2" stroke-width="9" stroke-linecap="round"/><line x1="914.5" y1="944.5" x2="901.7" y2="950.3" stroke="#9e9ea0" stroke-width="14" stroke-linecap="round"/><line x1="901.7" y1="950.3" x2="899.2" y2="958.2" stroke="#a0a0a2" stroke-width="9" stroke-linecap="round"/><line x1="901.7" y1="950.3" x2="894.1" y2="946.9" stroke="#a0a0a2" stroke-width="9" stroke-linecap="round"/><line x1="912.1" y1="930.2" x2="898.2" y2="928.8" stroke="#9e9ea0" stroke-width="14" stroke-linecap="round"/><line x1="898.2" y1="928.8" x2="892.0" y2="934.4" stroke="#a0a0a2" stroke-width="9" stroke-linecap="round"/><line x1="898.2" y1="928.8" x2="893.3" y2="922.1" stroke="#a0a0a2" stroke-width="9" stroke-linecap="round"/><line x1="917.3" y1="916.6" x2="905.9" y2="908.5" stroke="#9e9ea0" stroke-width="14" stroke-linecap="round"/><line x1="905.9" y1="908.5" x2="897.7" y2="910.3" stroke="#a0a0a2" stroke-width="9" stroke-linecap="round"/><line x1="905.9" y1="908.5" x2="905.0" y2="900.2" stroke="#a0a0a2" stroke-width="9" stroke-linecap="round"/><line x1="928.5" y1="907.5" x2="922.7" y2="894.7" stroke="#9e9ea0" stroke-width="14" stroke-linecap="round"/><line x1="922.7" y1="894.7" x2="914.8" y2="892.2" stroke="#a0a0a2" stroke-width="9" stroke-linecap="round"/><line x1="922.7" y1="894.7" x2="926.1" y2="887.1" stroke="#a0a0a2" stroke-width="9" stroke-linecap="round"/><line x1="942.8" y1="905.1" x2="944.2" y2="891.2" stroke="#9e9ea0" stroke-width="14" stroke-linecap="round"/><line x1="944.2" y1="891.2" x2="938.6" y2="885.0" stroke="#a0a0a2" stroke-width="9" stroke-linecap="round"/><line x1="944.2" y1="891.2" x2="950.9" y2="886.3" stroke="#a0a0a2" stroke-width="9" stroke-linecap="round"/><line x1="956.4" y1="910.3" x2="964.5" y2="898.9" stroke="#9e9ea0" stroke-width="14" stroke-linecap="round"/><line x1="964.5" y1="898.9" x2="962.7" y2="890.7" stroke="#a0a0a2" stroke-width="9" stroke-linecap="round"/><line x1="964.5" y1="898.9" x2="972.8" y2="898.0" stroke="#a0a0a2" stroke-width="9" stroke-linecap="round"/><line x1="965.5" y1="921.5" x2="978.3" y2="915.7" stroke="#9e9ea0" stroke-width="14" stroke-linecap="round"/><line x1="978.3" y1="915.7" x2="980.8" y2="907.8" stroke="#a0a0a2" stroke-width="9" stroke-linecap="round"/><line x1="978.3" y1="915.7" x2="985.9" y2="919.1" stroke="#a0a0a2" stroke-width="9" stroke-linecap="round"/>
<circle cx="1070" cy="933" r="32" fill="#9e9ea0"/><line x1="1096.3" y1="942.6" x2="1109.5" y2="947.4" stroke="#9e9ea0" stroke-width="14" stroke-linecap="round"/><line x1="1109.5" y1="947.4" x2="1116.8" y2="943.5" stroke="#a0a0a2" stroke-width="9" stroke-linecap="round"/><line x1="1109.5" y1="947.4" x2="1112.6" y2="955.2" stroke="#a0a0a2" stroke-width="9" stroke-linecap="round"/><line x1="1088.0" y1="954.5" x2="1097.0" y2="965.2" stroke="#9e9ea0" stroke-width="14" stroke-linecap="round"/><line x1="1097.0" y1="965.2" x2="1105.3" y2="965.5" stroke="#a0a0a2" stroke-width="9" stroke-linecap="round"/><line x1="1097.0" y1="965.2" x2="1095.8" y2="973.5" stroke="#a0a0a2" stroke-width="9" stroke-linecap="round"/><line x1="1074.8" y1="960.6" x2="1077.3" y2="974.4" stroke="#9e9ea0" stroke-width="14" stroke-linecap="round"/><line x1="1077.3" y1="974.4" x2="1084.3" y2="978.8" stroke="#a0a0a2" stroke-width="9" stroke-linecap="round"/><line x1="1077.3" y1="974.4" x2="1072.1" y2="981.0" stroke="#a0a0a2" stroke-width="9" stroke-linecap="round"/><line x1="1060.4" y1="959.3" x2="1055.6" y2="972.5" stroke="#9e9ea0" stroke-width="14" stroke-linecap="round"/><line x1="1055.6" y1="972.5" x2="1059.5" y2="979.8" stroke="#a0a0a2" stroke-width="9" stroke-linecap="round"/><line x1="1055.6" y1="972.5" x2="1047.8" y2="975.6" stroke="#a0a0a2" stroke-width="9" stroke-linecap="round"/><line x1="1048.5" y1="951.0" x2="1037.8" y2="960.0" stroke="#9e9ea0" stroke-width="14" stroke-linecap="round"/><line x1="1037.8" y1="960.0" x2="1037.5" y2="968.3" stroke="#a0a0a2" stroke-width="9" stroke-linecap="round"/><line x1="1037.8" y1="960.0" x2="1029.5" y2="958.8" stroke="#a0a0a2" stroke-width="9" stroke-linecap="round"/><line x1="1042.4" y1="937.8" x2="1028.6" y2="940.3" stroke="#9e9ea0" stroke-width="14" stroke-linecap="round"/><line x1="1028.6" y1="940.3" x2="1024.2" y2="947.3" stroke="#a0a0a2" stroke-width="9" stroke-linecap="round"/><line x1="1028.6" y1="940.3" x2="1022.0" y2="935.1" stroke="#a0a0a2" stroke-width="9" stroke-linecap="round"/><line x1="1043.7" y1="923.4" x2="1030.5" y2="918.6" stroke="#9e9ea0" stroke-width="14" stroke-linecap="round"/><line x1="1030.5" y1="918.6" x2="1023.2" y2="922.5" stroke="#a0a0a2" stroke-width="9" stroke-linecap="round"/><line x1="1030.5" y1="918.6" x2="1027.4" y2="910.8" stroke="#a0a0a2" stroke-width="9" stroke-linecap="round"/><line x1="1052.0" y1="911.5" x2="1043.0" y2="900.8" stroke="#9e9ea0" stroke-width="14" stroke-linecap="round"/><line x1="1043.0" y1="900.8" x2="1034.7" y2="900.5" stroke="#a0a0a2" stroke-width="9" stroke-linecap="round"/><line x1="1043.0" y1="900.8" x2="1044.2" y2="892.5" stroke="#a0a0a2" stroke-width="9" stroke-linecap="round"/><line x1="1065.2" y1="905.4" x2="1062.7" y2="891.6" stroke="#9e9ea0" stroke-width="14" stroke-linecap="round"/><line x1="1062.7" y1="891.6" x2="1055.7" y2="887.2" stroke="#a0a0a2" stroke-width="9" stroke-linecap="round"/><line x1="1062.7" y1="891.6" x2="1067.9" y2="885.0" stroke="#a0a0a2" stroke-width="9" stroke-linecap="round"/><line x1="1079.6" y1="906.7" x2="1084.4" y2="893.5" stroke="#9e9ea0" stroke-width="14" stroke-linecap="round"/><line x1="1084.4" y1="893.5" x2="1080.5" y2="886.2" stroke="#a0a0a2" stroke-width="9" stroke-linecap="round"/><line x1="1084.4" y1="893.5" x2="1092.2" y2="890.4" stroke="#a0a0a2" stroke-width="9" stroke-linecap="round"/><line x1="1091.5" y1="915.0" x2="1102.2" y2="906.0" stroke="#9e9ea0" stroke-width="14" stroke-linecap="round"/><line x1="1102.2" y1="906.0" x2="1102.5" y2="897.7" stroke="#a0a0a2" stroke-width="9" stroke-linecap="round"/><line x1="1102.2" y1="906.0" x2="1110.5" y2="907.2" stroke="#a0a0a2" stroke-width="9" stroke-linecap="round"/><line x1="1097.6" y1="928.2" x2="1111.4" y2="925.7" stroke="#9e9ea0" stroke-width="14" stroke-linecap="round"/><line x1="1111.4" y1="925.7" x2="1115.8" y2="918.7" stroke="#a0a0a2" stroke-width="9" stroke-linecap="round"/><line x1="1111.4" y1="925.7" x2="1118.0" y2="930.9" stroke="#a0a0a2" stroke-width="9" stroke-linecap="round"/>
<circle cx="940" cy="1062" r="32" fill="#9e9ea0"/><line x1="964.6" y1="1075.4" x2="976.9" y2="1082.1" stroke="#9e9ea0" stroke-width="14" stroke-linecap="round"/><line x1="976.9" y1="1082.1" x2="984.8" y2="1079.4" stroke="#a0a0a2" stroke-width="9" stroke-linecap="round"/><line x1="976.9" y1="1082.1" x2="978.8" y2="1090.3" stroke="#a0a0a2" stroke-width="9" stroke-linecap="round"/><line x1="954.6" y1="1085.9" x2="961.9" y2="1097.9" stroke="#9e9ea0" stroke-width="14" stroke-linecap="round"/><line x1="961.9" y1="1097.9" x2="970.1" y2="1099.4" stroke="#a0a0a2" stroke-width="9" stroke-linecap="round"/><line x1="961.9" y1="1097.9" x2="959.4" y2="1105.9" stroke="#a0a0a2" stroke-width="9" stroke-linecap="round"/><line x1="940.7" y1="1090.0" x2="941.0" y2="1104.0" stroke="#9e9ea0" stroke-width="14" stroke-linecap="round"/><line x1="941.0" y1="1104.0" x2="947.3" y2="1109.4" stroke="#a0a0a2" stroke-width="9" stroke-linecap="round"/><line x1="941.0" y1="1104.0" x2="934.9" y2="1109.7" stroke="#a0a0a2" stroke-width="9" stroke-linecap="round"/><line x1="926.6" y1="1086.6" x2="919.9" y2="1098.9" stroke="#9e9ea0" stroke-width="14" stroke-linecap="round"/><line x1="919.9" y1="1098.9" x2="922.6" y2="1106.8" stroke="#a0a0a2" stroke-width="9" stroke-linecap="round"/><line x1="919.9" y1="1098.9" x2="911.7" y2="1100.8" stroke="#a0a0a2" stroke-width="9" stroke-linecap="round"/><line x1="916.1" y1="1076.6" x2="904.1" y2="1083.9" stroke="#9e9ea0" stroke-width="14" stroke-linecap="round"/><line x1="904.1" y1="1083.9" x2="902.6" y2="1092.1" stroke="#a0a0a2" stroke-width="9" stroke-linecap="round"/><line x1="904.1" y1="1083.9" x2="896.1" y2="1081.4" stroke="#a0a0a2" stroke-width="9" stroke-linecap="round"/><line x1="912.0" y1="1062.7" x2="898.0" y2="1063.0" stroke="#9e9ea0" stroke-width="14" stroke-linecap="round"/><line x1="898.0" y1="1063.0" x2="892.6" y2="1069.3" stroke="#a0a0a2" stroke-width="9" stroke-linecap="round"/><line x1="898.0" y1="1063.0" x2="892.3" y2="1056.9" stroke="#a0a0a2" stroke-width="9" stroke-linecap="round"/><line x1="915.4" y1="1048.6" x2="903.1" y2="1041.9" stroke="#9e9ea0" stroke-width="14" stroke-linecap="round"/><line x1="903.1" y1="1041.9" x2="895.2" y2="1044.6" stroke="#a0a0a2" stroke-width="9" stroke-linecap="round"/><line x1="903.1" y1="1041.9" x2="901.2" y2="1033.7" stroke="#a0a0a2" stroke-width="9" stroke-linecap="round"/><line x1="925.4" y1="1038.1" x2="918.1" y2="1026.1" stroke="#9e9ea0" stroke-width="14" stroke-linecap="round"/><line x1="918.1" y1="1026.1" x2="909.9" y2="1024.6" stroke="#a0a0a2" stroke-width="9" stroke-linecap="round"/><line x1="918.1" y1="1026.1" x2="920.6" y2="1018.1" stroke="#a0a0a2" stroke-width="9" stroke-linecap="round"/><line x1="939.3" y1="1034.0" x2="939.0" y2="1020.0" stroke="#9e9ea0" stroke-width="14" stroke-linecap="round"/><line x1="939.0" y1="1020.0" x2="932.7" y2="1014.6" stroke="#a0a0a2" stroke-width="9" stroke-linecap="round"/><line x1="939.0" y1="1020.0" x2="945.1" y2="1014.3" stroke="#a0a0a2" stroke-width="9" stroke-linecap="round"/><line x1="953.4" y1="1037.4" x2="960.1" y2="1025.1" stroke="#9e9ea0" stroke-width="14" stroke-linecap="round"/><line x1="960.1" y1="1025.1" x2="957.4" y2="1017.2" stroke="#a0a0a2" stroke-width="9" stroke-linecap="round"/><line x1="960.1" y1="1025.1" x2="968.3" y2="1023.2" stroke="#a0a0a2" stroke-width="9" stroke-linecap="round"/><line x1="963.9" y1="1047.4" x2="975.9" y2="1040.1" stroke="#9e9ea0" stroke-width="14" stroke-linecap="round"/><line x1="975.9" y1="1040.1" x2="977.4" y2="1031.9" stroke="#a0a0a2" stroke-width="9" stroke-linecap="round"/><line x1="975.9" y1="1040.1" x2="983.9" y2="1042.6" stroke="#a0a0a2" stroke-width="9" stroke-linecap="round"/><line x1="968.0" y1="1061.3" x2="982.0" y2="1061.0" stroke="#9e9ea0" stroke-width="14" stroke-linecap="round"/><line x1="982.0" y1="1061.0" x2="987.4" y2="1054.7" stroke="#a0a0a2" stroke-width="9" stroke-linecap="round"/><line x1="982.0" y1="1061.0" x2="987.7" y2="1067.1" stroke="#a0a0a2" stroke-width="9" stroke-linecap="round"/>
<circle cx="1070" cy="1062" r="32" fill="#9e9ea0"/><line x1="1097.4" y1="1067.6" x2="1111.2" y2="1070.3" stroke="#9e9ea0" stroke-width="14" stroke-linecap="round"/><line x1="1111.2" y1="1070.3" x2="1117.9" y2="1065.4" stroke="#a0a0a2" stroke-width="9" stroke-linecap="round"/><line x1="1111.2" y1="1070.3" x2="1115.4" y2="1077.6" stroke="#a0a0a2" stroke-width="9" stroke-linecap="round"/><line x1="1091.0" y1="1080.5" x2="1101.5" y2="1089.8" stroke="#9e9ea0" stroke-width="14" stroke-linecap="round"/><line x1="1101.5" y1="1089.8" x2="1109.8" y2="1088.8" stroke="#a0a0a2" stroke-width="9" stroke-linecap="round"/><line x1="1101.5" y1="1089.8" x2="1101.5" y2="1098.2" stroke="#a0a0a2" stroke-width="9" stroke-linecap="round"/><line x1="1078.9" y1="1088.5" x2="1083.4" y2="1101.8" stroke="#9e9ea0" stroke-width="14" stroke-linecap="round"/><line x1="1083.4" y1="1101.8" x2="1091.0" y2="1105.1" stroke="#a0a0a2" stroke-width="9" stroke-linecap="round"/><line x1="1083.4" y1="1101.8" x2="1079.2" y2="1109.1" stroke="#a0a0a2" stroke-width="9" stroke-linecap="round"/><line x1="1064.4" y1="1089.4" x2="1061.7" y2="1103.2" stroke="#9e9ea0" stroke-width="14" stroke-linecap="round"/><line x1="1061.7" y1="1103.2" x2="1066.6" y2="1109.9" stroke="#a0a0a2" stroke-width="9" stroke-linecap="round"/><line x1="1061.7" y1="1103.2" x2="1054.4" y2="1107.4" stroke="#a0a0a2" stroke-width="9" stroke-linecap="round"/><line x1="1051.5" y1="1083.0" x2="1042.2" y2="1093.5" stroke="#9e9ea0" stroke-width="14" stroke-linecap="round"/><line x1="1042.2" y1="1093.5" x2="1043.2" y2="1101.8" stroke="#a0a0a2" stroke-width="9" stroke-linecap="round"/><line x1="1042.2" y1="1093.5" x2="1033.8" y2="1093.5" stroke="#a0a0a2" stroke-width="9" stroke-linecap="round"/><line x1="1043.5" y1="1070.9" x2="1030.2" y2="1075.4" stroke="#9e9ea0" stroke-width="14" stroke-linecap="round"/><line x1="1030.2" y1="1075.4" x2="1026.9" y2="1083.0" stroke="#a0a0a2" stroke-width="9" stroke-linecap="round"/><line x1="1030.2" y1="1075.4" x2="1022.9" y2="1071.2" stroke="#a0a0a2" stroke-width="9" stroke-linecap="round"/><line x1="1042.6" y1="1056.4" x2="1028.8" y2="1053.7" stroke="#9e9ea0" stroke-width="14" stroke-linecap="round"/><line x1="1028.8" y1="1053.7" x2="1022.1" y2="1058.6" stroke="#a0a0a2" stroke-width="9" stroke-linecap="round"/><line x1="1028.8" y1="1053.7" x2="1024.6" y2="1046.4" stroke="#a0a0a2" stroke-width="9" stroke-linecap="round"/><line x1="1049.0" y1="1043.5" x2="1038.5" y2="1034.2" stroke="#9e9ea0" stroke-width="14" stroke-linecap="round"/><line x1="1038.5" y1="1034.2" x2="1030.2" y2="1035.2" stroke="#a0a0a2" stroke-width="9" stroke-linecap="round"/><line x1="1038.5" y1="1034.2" x2="1038.5" y2="1025.8" stroke="#a0a0a2" stroke-width="9" stroke-linecap="round"/><line x1="1061.1" y1="1035.5" x2="1056.6" y2="1022.2" stroke="#9e9ea0" stroke-width="14" stroke-linecap="round"/><line x1="1056.6" y1="1022.2" x2="1049.0" y2="1018.9" stroke="#a0a0a2" stroke-width="9" stroke-linecap="round"/><line x1="1056.6" y1="1022.2" x2="1060.8" y2="1014.9" stroke="#a0a0a2" stroke-width="9" stroke-linecap="round"/><line x1="1075.6" y1="1034.6" x2="1078.3" y2="1020.8" stroke="#9e9ea0" stroke-width="14" stroke-linecap="round"/><line x1="1078.3" y1="1020.8" x2="1073.4" y2="1014.1" stroke="#a0a0a2" stroke-width="9" stroke-linecap="round"/><line x1="1078.3" y1="1020.8" x2="1085.6" y2="1016.6" stroke="#a0a0a2" stroke-width="9" stroke-linecap="round"/><line x1="1088.5" y1="1041.0" x2="1097.8" y2="1030.5" stroke="#9e9ea0" stroke-width="14" stroke-linecap="round"/><line x1="1097.8" y1="1030.5" x2="1096.8" y2="1022.2" stroke="#a0a0a2" stroke-width="9" stroke-linecap="round"/><line x1="1097.8" y1="1030.5" x2="1106.2" y2="1030.5" stroke="#a0a0a2" stroke-width="9" stroke-linecap="round"/><line x1="1096.5" y1="1053.1" x2="1109.8" y2="1048.6" stroke="#9e9ea0" stroke-width="14" stroke-linecap="round"/><line x1="1109.8" y1="1048.6" x2="1113.1" y2="1041.0" stroke="#a0a0a2" stroke-width="9" stroke-linecap="round"/><line x1="1109.8" y1="1048.6" x2="1117.1" y2="1052.8" stroke="#a0a0a2" stroke-width="9" stroke-linecap="round"/>
<path d="M940 906 C952 906 960 912 962 920 C985 926 1025 926 1050 920 C1053 912 1060 906 1072 906 C1084 906 1091 915 1091 926 C1091 936 1085 944 1076 948 C1062 975 1062 1015 1076 1043 C1085 1047 1091 1055 1091 1066 C1091 1077 1084 1085 1072 1085 C1060 1085 1053 1079 1050 1071 C1025 1066 985 1066 962 1071 C960 1079 952 1085 940 1085 C928 1085 921 1077 921 1066 C921 1055 927 1047 934 1043 C950 1015 950 975 934 948 C927 944 921 936 921 926 C921 915 928 906 940 906 Z" fill="#f5f5f6" stroke="#b9a89a" stroke-width="1.5"/>
<path d="M940 906 C952 906 960 912 962 920 C985 926 1025 926 1050 920 C1053 912 1060 906 1072 906 C1084 906 1091 915 1091 926 C1091 936 1085 944 1076 948 C1062 975 1062 1015 1076 1043 C1085 1047 1091 1055 1091 1066 C1091 1077 1084 1085 1072 1085 C1060 1085 1053 1079 1050 1071 C1025 1066 985 1066 962 1071 C960 1079 952 1085 940 1085 C928 1085 921 1077 921 1066 C921 1055 927 1047 934 1043 C950 1015 950 975 934 948 C927 944 921 936 921 926 C921 915 928 906 940 906 Z" fill="none" stroke="#e2e2e4" stroke-width="3" transform="translate(1006 995.5) scale(0.86) translate(-1006 -995.5)"/>
<clipPath id="domeClip"><path d="M496 725 A524 591 0 0 1 830 318 L1176 316 A524 591 0 0 1 1510 722 L1459 722 C1458.2 720.8 1456.8 719.0 1454.0 715.0 C1451.2 711.0 1447.7 705.5 1442.0 698.0 C1436.3 690.5 1431.3 679.1 1420.0 670.0 C1408.7 660.9 1389.3 649.0 1374.0 643.5 C1358.7 638.0 1347.0 637.0 1328.0 637.0 C1309.0 637.0 1277.2 639.0 1260.0 643.5 C1242.8 648.0 1239.5 657.1 1225.0 664.0 C1210.5 670.9 1190.2 679.2 1173.0 685.0 C1155.8 690.8 1139.2 694.8 1122.0 699.0 C1104.8 703.2 1089.8 706.7 1070.0 710.0 C1050.2 713.3 1024.7 718.2 1003.0 719.0 C981.3 719.8 958.0 716.2 940.0 714.5 C922.0 712.8 911.2 711.8 895.0 709.0 C878.8 706.2 860.0 704.2 843.0 698.0 C826.0 691.8 810.2 680.2 793.0 672.0 C775.8 663.8 754.8 654.3 740.0 649.0 C725.2 643.7 718.3 641.8 704.0 640.0 C689.7 638.2 670.7 636.0 654.0 638.0 C637.3 640.0 618.5 645.2 604.0 652.0 C589.5 658.8 575.5 670.2 567.0 679.0 C558.5 687.8 556.0 697.3 553.0 705.0 C550.0 712.7 549.7 721.7 549.0 725.0  Z"/></clipPath>
<path d="M496 725 A524 591 0 0 1 830 318 L1176 316 A524 591 0 0 1 1510 722 L1459 722 C1458.2 720.8 1456.8 719.0 1454.0 715.0 C1451.2 711.0 1447.7 705.5 1442.0 698.0 C1436.3 690.5 1431.3 679.1 1420.0 670.0 C1408.7 660.9 1389.3 649.0 1374.0 643.5 C1358.7 638.0 1347.0 637.0 1328.0 637.0 C1309.0 637.0 1277.2 639.0 1260.0 643.5 C1242.8 648.0 1239.5 657.1 1225.0 664.0 C1210.5 670.9 1190.2 679.2 1173.0 685.0 C1155.8 690.8 1139.2 694.8 1122.0 699.0 C1104.8 703.2 1089.8 706.7 1070.0 710.0 C1050.2 713.3 1024.7 718.2 1003.0 719.0 C981.3 719.8 958.0 716.2 940.0 714.5 C922.0 712.8 911.2 711.8 895.0 709.0 C878.8 706.2 860.0 704.2 843.0 698.0 C826.0 691.8 810.2 680.2 793.0 672.0 C775.8 663.8 754.8 654.3 740.0 649.0 C725.2 643.7 718.3 641.8 704.0 640.0 C689.7 638.2 670.7 636.0 654.0 638.0 C637.3 640.0 618.5 645.2 604.0 652.0 C589.5 658.8 575.5 670.2 567.0 679.0 C558.5 687.8 556.0 697.3 553.0 705.0 C550.0 712.7 549.7 721.7 549.0 725.0  Z" fill="url(#domeG)"/>
<g clip-path="url(#domeClip)"><path d="M496 725 A524 591 0 0 1 830 318 M1176 316 A524 591 0 0 1 1510 722" fill="none" stroke="#7e8287" stroke-width="24" opacity="0.35" filter="url(#blur8)"/><path d="M500.0 722.0 C502.5 718.3 509.5 707.7 515.0 700.0 C520.5 692.3 525.8 684.0 533.0 676.0 C540.2 668.0 546.2 659.7 558.0 652.0 C569.8 644.3 586.0 635.3 604.0 630.0 C622.0 624.7 647.3 620.8 666.0 620.0 C684.7 619.2 701.5 622.2 716.0 625.0 C730.5 627.8 740.3 632.2 753.0 637.0 C765.7 641.8 777.0 647.0 792.0 653.5 C807.0 660.0 825.8 669.4 843.0 676.0 C860.2 682.6 878.8 688.8 895.0 693.0 C911.2 697.2 922.0 699.3 940.0 701.0 C958.0 702.7 981.3 704.3 1003.0 703.0 C1024.7 701.7 1050.2 696.5 1070.0 693.0 C1089.8 689.5 1104.8 686.8 1122.0 682.0 C1139.2 677.2 1155.8 670.8 1173.0 664.0 C1190.2 657.2 1210.5 647.1 1225.0 641.0 C1239.5 634.9 1242.8 631.6 1260.0 627.6 C1277.2 623.6 1309.0 617.9 1328.0 617.0 C1347.0 616.1 1358.7 618.5 1374.0 622.0 C1389.3 625.5 1406.7 631.5 1420.0 638.0 C1433.3 644.5 1444.0 652.8 1454.0 661.0 C1464.0 669.2 1472.8 678.5 1480.0 687.0 C1487.2 695.5 1492.8 706.2 1497.0 712.0 C1501.2 717.8 1503.7 720.3 1505.0 722.0  L1510 722 L1459 722 C1458.2 720.8 1456.8 719.0 1454.0 715.0 C1451.2 711.0 1447.7 705.5 1442.0 698.0 C1436.3 690.5 1431.3 679.1 1420.0 670.0 C1408.7 660.9 1389.3 649.0 1374.0 643.5 C1358.7 638.0 1347.0 637.0 1328.0 637.0 C1309.0 637.0 1277.2 639.0 1260.0 643.5 C1242.8 648.0 1239.5 657.1 1225.0 664.0 C1210.5 670.9 1190.2 679.2 1173.0 685.0 C1155.8 690.8 1139.2 694.8 1122.0 699.0 C1104.8 703.2 1089.8 706.7 1070.0 710.0 C1050.2 713.3 1024.7 718.2 1003.0 719.0 C981.3 719.8 958.0 716.2 940.0 714.5 C922.0 712.8 911.2 711.8 895.0 709.0 C878.8 706.2 860.0 704.2 843.0 698.0 C826.0 691.8 810.2 680.2 793.0 672.0 C775.8 663.8 754.8 654.3 740.0 649.0 C725.2 643.7 718.3 641.8 704.0 640.0 C689.7 638.2 670.7 636.0 654.0 638.0 C637.3 640.0 618.5 645.2 604.0 652.0 C589.5 658.8 575.5 670.2 567.0 679.0 C558.5 687.8 556.0 697.3 553.0 705.0 C550.0 712.7 549.7 721.7 549.0 725.0  Z" fill="#c5c7c9"/><path d="M500.0 722.0 C502.5 718.3 509.5 707.7 515.0 700.0 C520.5 692.3 525.8 684.0 533.0 676.0 C540.2 668.0 546.2 659.7 558.0 652.0 C569.8 644.3 586.0 635.3 604.0 630.0 C622.0 624.7 647.3 620.8 666.0 620.0 C684.7 619.2 701.5 622.2 716.0 625.0 C730.5 627.8 740.3 632.2 753.0 637.0 C765.7 641.8 777.0 647.0 792.0 653.5 C807.0 660.0 825.8 669.4 843.0 676.0 C860.2 682.6 878.8 688.8 895.0 693.0 C911.2 697.2 922.0 699.3 940.0 701.0 C958.0 702.7 981.3 704.3 1003.0 703.0 C1024.7 701.7 1050.2 696.5 1070.0 693.0 C1089.8 689.5 1104.8 686.8 1122.0 682.0 C1139.2 677.2 1155.8 670.8 1173.0 664.0 C1190.2 657.2 1210.5 647.1 1225.0 641.0 C1239.5 634.9 1242.8 631.6 1260.0 627.6 C1277.2 623.6 1309.0 617.9 1328.0 617.0 C1347.0 616.1 1358.7 618.5 1374.0 622.0 C1389.3 625.5 1406.7 631.5 1420.0 638.0 C1433.3 644.5 1444.0 652.8 1454.0 661.0 C1464.0 669.2 1472.8 678.5 1480.0 687.0 C1487.2 695.5 1492.8 706.2 1497.0 712.0 C1501.2 717.8 1503.7 720.3 1505.0 722.0 " fill="none" stroke="#b3b5b8" stroke-width="2"/><path d="M1459.0 722.0 C1458.2 720.8 1456.8 719.0 1454.0 715.0 C1451.2 711.0 1447.7 705.5 1442.0 698.0 C1436.3 690.5 1431.3 679.1 1420.0 670.0 C1408.7 660.9 1389.3 649.0 1374.0 643.5 C1358.7 638.0 1347.0 637.0 1328.0 637.0 C1309.0 637.0 1277.2 639.0 1260.0 643.5 C1242.8 648.0 1239.5 657.1 1225.0 664.0 C1210.5 670.9 1190.2 679.2 1173.0 685.0 C1155.8 690.8 1139.2 694.8 1122.0 699.0 C1104.8 703.2 1089.8 706.7 1070.0 710.0 C1050.2 713.3 1024.7 718.2 1003.0 719.0 C981.3 719.8 958.0 716.2 940.0 714.5 C922.0 712.8 911.2 711.8 895.0 709.0 C878.8 706.2 860.0 704.2 843.0 698.0 C826.0 691.8 810.2 680.2 793.0 672.0 C775.8 663.8 754.8 654.3 740.0 649.0 C725.2 643.7 718.3 641.8 704.0 640.0 C689.7 638.2 670.7 636.0 654.0 638.0 C637.3 640.0 618.5 645.2 604.0 652.0 C589.5 658.8 575.5 670.2 567.0 679.0 C558.5 687.8 556.0 697.3 553.0 705.0 C550.0 712.7 549.7 721.7 549.0 725.0 " fill="none" stroke="#b9bbbe" stroke-width="3" opacity="0.7"/><path d="M496 724 L549 724 L549 714 L498 714 Z" fill="#b4b6b9"/><path d="M1459 722 L1510 722 L1507 712 L1459 712 Z" fill="#b4b6b9"/></g>
<path d="M829.0 317.0 C829.8 321.8 831.8 335.5 834.0 346.0 C836.2 356.5 839.2 369.3 842.0 380.0 C844.8 390.7 847.3 400.0 851.0 410.0 C854.7 420.0 859.2 430.5 864.0 440.0 C868.8 449.5 873.2 458.7 880.0 467.0 C886.8 475.3 893.3 483.5 905.0 490.0 C916.7 496.5 933.7 502.7 950.0 506.0 C966.3 509.3 984.5 510.0 1003.0 510.0 C1021.5 510.0 1043.8 509.3 1061.0 506.0 C1078.2 502.7 1094.3 496.5 1106.0 490.0 C1117.7 483.5 1124.2 475.3 1131.0 467.0 C1137.8 458.7 1142.2 449.5 1147.0 440.0 C1151.8 430.5 1156.3 420.0 1160.0 410.0 C1163.7 400.0 1166.2 390.7 1169.0 380.0 C1171.8 369.3 1174.8 356.5 1177.0 346.0 C1179.2 335.5 1181.2 321.8 1182.0 317.0  L1176 311 L835 314 Z" fill="#93969a"/>
<path d="M831.7 315.5 C833.2 320.8 837.6 336.1 841.0 347.0 C844.4 357.9 848.6 370.3 852.0 381.0 C855.4 391.7 857.8 400.8 861.5 411.0 C865.2 421.2 869.2 432.9 874.0 442.5 C878.8 452.1 883.2 460.6 890.0 468.5 C896.8 476.4 904.2 484.3 915.0 490.0 C925.8 495.7 940.3 499.8 955.0 502.5 C969.7 505.2 986.2 506.0 1003.0 506.0 C1019.8 506.0 1040.5 505.2 1056.0 502.5 C1071.5 499.8 1085.2 495.7 1096.0 490.0 C1106.8 484.3 1114.2 476.4 1121.0 468.5 C1127.8 460.6 1132.2 452.1 1137.0 442.5 C1141.8 432.9 1145.8 421.2 1149.5 411.0 C1153.2 400.8 1155.6 391.7 1159.0 381.0 C1162.4 370.3 1166.6 357.9 1170.0 347.0 C1173.4 336.1 1177.8 320.8 1179.3 315.5 " fill="none" stroke="#7a7e83" stroke-width="4" opacity="0.7" filter="url(#blur1)"/>
<path d="M835 314 C900 290 960 271 1005 271 C1050 271 1110 288 1176 311 C1174.3 319.7 1167.6 336.7 1163.0 348.0 C1158.4 359.3 1153.0 371.3 1149.0 382.0 C1145.0 392.7 1142.7 401.5 1139.0 412.0 C1135.3 422.5 1131.7 435.3 1127.0 445.0 C1122.3 454.7 1117.8 462.5 1111.0 470.0 C1104.2 477.5 1096.0 485.2 1086.0 490.0 C1076.0 494.8 1064.0 497.0 1051.0 499.0 C1038.0 501.0 1023.2 502.0 1008.0 502.0 C992.8 502.0 973.8 501.0 960.0 499.0 C946.2 497.0 935.0 494.8 925.0 490.0 C915.0 485.2 906.8 477.5 900.0 470.0 C893.2 462.5 888.7 454.7 884.0 445.0 C879.3 435.3 875.7 422.5 872.0 412.0 C868.3 401.5 866.0 392.7 862.0 382.0 C858.0 371.3 852.6 359.3 848.0 348.0 C843.4 336.7 836.7 319.7 834.4 314.0  Z" fill="url(#modG)"/>
<ellipse cx="999" cy="396" rx="108" ry="88" fill="none" stroke="#f9f9fa" stroke-width="6"/>
<ellipse cx="999" cy="396" rx="103" ry="83" fill="url(#dispG)" stroke="#d3d4d7" stroke-width="2.5"/>
<g transform="translate(0 0)"><rect x="975.3" y="342.0" width="16.4" height="5.5" fill="#ffffff"/><rect x="975.3" y="392.5" width="16.4" height="5.5" fill="#ffffff"/><rect x="975.3" y="367.2" width="16.4" height="5.5" fill="#ffffff"/><rect x="989.5" y="345.3" width="5.5" height="23.1" fill="#ffffff"/><rect x="972.0" y="371.6" width="5.5" height="23.1" fill="#ffffff"/><rect x="1003.3" y="342.0" width="16.4" height="5.5" fill="#ffffff"/><rect x="1003.3" y="392.5" width="16.4" height="5.5" fill="#ffffff"/><rect x="1003.3" y="367.2" width="16.4" height="5.5" fill="#ffffff"/><rect x="1000.0" y="345.3" width="5.5" height="23.1" fill="#ffffff"/><rect x="1017.5" y="371.6" width="5.5" height="23.1" fill="#ffffff"/></g>
<circle cx="928" cy="416" r="15.5" fill="url(#btnG)"/>
<circle cx="970" cy="447" r="15.5" fill="url(#btnG)"/>
<circle cx="1024" cy="447" r="15.5" fill="url(#btnG)"/>
<circle cx="1069" cy="419" r="15.5" fill="url(#btnG)"/>
<g stroke="#3a3c40" fill="none" stroke-width="1.8"><rect x="925.5" y="404" width="5" height="17" rx="2.5"/><circle cx="928" cy="424.5" r="3.6"/><path d="M927 408 h2 M927 411 h2 M927 414 h2 M927 417 h2" stroke-width="1"/><path d="M964.5 441.5 A8 8 0 1 0 975.5 441.5" stroke-width="2.2"/><path d="M970 437 L970 447" stroke-width="2.2"/><path d="M1014 447 q3 -3 6 0 t6 0 t6 0" stroke-width="1.6"/><path d="M1014 451 q3 -3 6 0 t6 0 t6 0" stroke-width="1.6"/><path d="M1014 455 q3 -3 6 0 t6 0 t6 0" stroke-width="1.6"/><circle cx="1069" cy="420" r="7"/><path d="M1066 418 L1069 422 L1073 417"/><path d="M1063 427 L1061 430 M1075 427 L1077 430"/><path d="M1062 413 A3.5 3.5 0 0 1 1066 410" stroke-width="2.5"/><path d="M1072 410 A3.5 3.5 0 0 1 1076 413" stroke-width="2.5"/></g>
<circle cx="619" cy="489" r="6" fill="#8a8e92" opacity="0.6"/><circle cx="620" cy="490" r="3" fill="#a5a8ab" opacity="0.6"/>
<circle cx="805" cy="337" r="6" fill="#8a8e92" opacity="0.6"/><circle cx="806" cy="338" r="3" fill="#a5a8ab" opacity="0.6"/>
<circle cx="1196" cy="333" r="6" fill="#8a8e92" opacity="0.6"/><circle cx="1197" cy="334" r="3" fill="#a5a8ab" opacity="0.6"/>
<circle cx="1384" cy="484" r="6" fill="#8a8e92" opacity="0.6"/><circle cx="1385" cy="485" r="3" fill="#a5a8ab" opacity="0.6"/>
<circle cx="516" cy="710" r="6" fill="#8a8e92" opacity="0.6"/><circle cx="517" cy="711" r="3" fill="#a5a8ab" opacity="0.6"/>
<circle cx="1484" cy="707" r="6" fill="#8a8e92" opacity="0.6"/><circle cx="1485" cy="708" r="3" fill="#a5a8ab" opacity="0.6"/>
<text x="907" y="604" font-family="Liberation Sans" font-size="40" fill="#e08a1a" letter-spacing="0.6">M<tspan font-size="30">EDI</tspan><tspan font-size="30" fill="#f6f6f6">SANA</tspan><tspan font-size="10" fill="#f0f0f0" dy="-18">®</tspan></text>
<path d="M903 1469 C906 1445 950 1425.5 996 1425.5 C1045 1425.5 1088 1445 1090 1469 C1088 1493 1045 1513 996 1513 C950 1513 906 1493 903 1469 Z" fill="#f2f2f3" transform="translate(996 1469) scale(1.04 1.1) translate(-996 -1469)" filter="url(#blur2)"/>
<path d="M903 1469 C906 1445 950 1425.5 996 1425.5 C1045 1425.5 1088 1445 1090 1469 C1088 1493 1045 1513 996 1513 C950 1513 906 1493 903 1469 Z" fill="url(#redG)" stroke="#8a1018" stroke-width="2"/>
<path d="M1012 1434 C1050 1438 1078 1452 1082 1469 C1076 1488 1052 1500 1030 1503 C1044 1482 1040 1452 1012 1434 Z" fill="#d27a84" opacity="0.5"/>
<circle cx="972.5" cy="1469" r="5" fill="#6e0a10"/>
<g font-family="Liberation Sans" font-size="70" fill="#EC900E" stroke="#ffffff" stroke-width="0.45"><text x="145.1" y="196" textLength="432.5" lengthAdjust="spacing">Additional red</text><text x="154.4" y="280" textLength="421" lengthAdjust="spacing">light and heat</text><text x="319.8" y="363" textLength="257.8" lengthAdjust="spacing">function</text><text x="1468.9" y="152" textLength="196.9" lengthAdjust="spacing">Digital</text><text x="1469.3" y="236" textLength="324.3" lengthAdjust="spacing">display for</text><text x="1468.6" y="320" textLength="395" lengthAdjust="spacing">timer setting</text><text x="703.7" y="1731" textLength="721.3" lengthAdjust="spacing">Massage rollers for the</text><text x="704.7" y="1813" textLength="642.8" lengthAdjust="spacing">inner side of the foot</text></g>
<g fill="#EC900E"><rect x="570" y="416" width="332" height="3.6"/><circle cx="902" cy="417.8" r="7"/><rect x="1057" y="363.8" width="418" height="3.6"/><circle cx="1057" cy="365.6" r="7"/><rect x="710.2" y="1040" width="3.6" height="589"/><circle cx="712" cy="1040" r="7"/></g>
</svg>
</body></html>
